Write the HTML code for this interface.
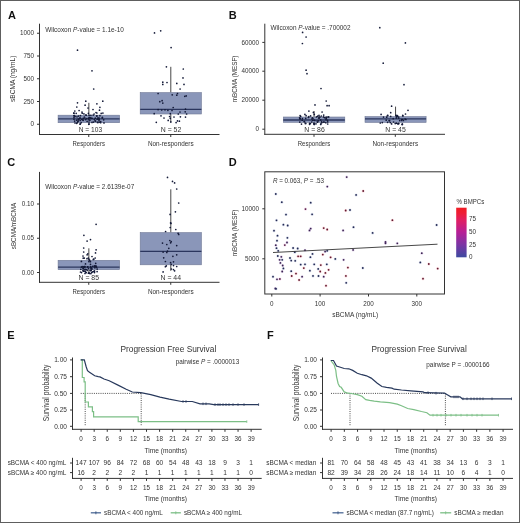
<!DOCTYPE html>
<html><head><meta charset="utf-8"><style>html,body{margin:0;padding:0;background:#fff;width:520px;height:523px;overflow:hidden}svg{display:block;will-change:transform}text{font-family:"Liberation Sans",sans-serif}</style></head><body>
<svg width="520" height="523" viewBox="0 0 520 523" font-family="Liberation Sans, sans-serif">
<rect x="0" y="0" width="520" height="523" fill="#fff"/>
<text x="8.0" y="18.8" font-size="11" font-weight="bold" fill="#111">A</text>
<line x1="39.5" y1="23.7" x2="39.5" y2="135.0" stroke="#333333" stroke-width="1"/>
<line x1="37.0" y1="33.25" x2="39.5" y2="33.25" stroke="#333333" stroke-width="1"/>
<text x="34" y="35.45" font-size="6.3" text-anchor="end" fill="#333333">1000</text>
<line x1="37.0" y1="56" x2="39.5" y2="56" stroke="#333333" stroke-width="1"/>
<text x="34" y="58.2" font-size="6.3" text-anchor="end" fill="#333333">750</text>
<line x1="37.0" y1="78.75" x2="39.5" y2="78.75" stroke="#333333" stroke-width="1"/>
<text x="34" y="80.95" font-size="6.3" text-anchor="end" fill="#333333">500</text>
<line x1="37.0" y1="101.5" x2="39.5" y2="101.5" stroke="#333333" stroke-width="1"/>
<text x="34" y="103.7" font-size="6.3" text-anchor="end" fill="#333333">250</text>
<line x1="37.0" y1="124.25" x2="39.5" y2="124.25" stroke="#333333" stroke-width="1"/>
<text x="34" y="126.45" font-size="6.3" text-anchor="end" fill="#333333">0</text>
<line x1="39.0" y1="134.5" x2="219.5" y2="134.5" stroke="#333333" stroke-width="1"/>
<line x1="88.75" y1="134.5" x2="88.75" y2="137.0" stroke="#333333" stroke-width="1"/>
<text x="88.75" y="145.6" font-size="6.6" text-anchor="middle" textLength="32.5" lengthAdjust="spacingAndGlyphs" fill="#333333">Responders</text>
<line x1="170.75" y1="134.5" x2="170.75" y2="137.0" stroke="#333333" stroke-width="1"/>
<text x="170.75" y="145.6" font-size="6.6" text-anchor="middle" textLength="45.75" lengthAdjust="spacingAndGlyphs" fill="#333333">Non-responders</text>
<text transform="translate(15.0,78.8) rotate(-90)" x="0" y="0" font-size="7.8" text-anchor="middle" textLength="46.5" lengthAdjust="spacingAndGlyphs" fill="#333333">sBCMA (ng/mL)</text>
<line x1="88.85" y1="102.8" x2="88.85" y2="115.2" stroke="#474747" stroke-width="1"/>
<line x1="88.85" y1="122.7" x2="88.85" y2="124.3" stroke="#474747" stroke-width="1"/>
<rect x="58.1" y="115.2" width="61.49999999999999" height="7.5" fill="#8a96b9" stroke="#6f7895" stroke-width="0.6"/>
<line x1="58.1" y1="118.8" x2="119.6" y2="118.8" stroke="#2b365e" stroke-width="1.3"/>
<line x1="170.8" y1="66.8" x2="170.8" y2="92.6" stroke="#474747" stroke-width="1"/>
<line x1="170.8" y1="114.0" x2="170.8" y2="122.6" stroke="#474747" stroke-width="1"/>
<rect x="140.2" y="92.6" width="61.20000000000002" height="21.400000000000006" fill="#8a96b9" stroke="#6f7895" stroke-width="0.6"/>
<line x1="140.2" y1="109.3" x2="201.4" y2="109.3" stroke="#2b365e" stroke-width="1.3"/>
<text x="45.2" y="31.8" font-size="6.8" textLength="78.7" lengthAdjust="spacingAndGlyphs" fill="#333333">Wilcoxon <tspan font-style="italic">P</tspan>-value = 1.1e-10</text>
<text x="90.4" y="131.6" font-size="6.6" text-anchor="middle" textLength="23.4" lengthAdjust="spacingAndGlyphs" fill="#333333">N = 103</text>
<text x="171.0" y="131.6" font-size="6.6" text-anchor="middle" textLength="20.5" lengthAdjust="spacingAndGlyphs" fill="#333333">N = 52</text>
<circle cx="77.5" cy="50.2" r="0.85" fill="#141a38"/>
<circle cx="92.0" cy="70.8" r="0.85" fill="#141a38"/>
<circle cx="93.7" cy="89.0" r="0.85" fill="#141a38"/>
<circle cx="102.8" cy="101.2" r="0.85" fill="#141a38"/>
<circle cx="77.5" cy="102.8" r="0.85" fill="#141a38"/>
<circle cx="85.8" cy="101.2" r="0.85" fill="#141a38"/>
<circle cx="96.9" cy="103.8" r="0.85" fill="#141a38"/>
<circle cx="76.8" cy="107.0" r="0.85" fill="#141a38"/>
<circle cx="85.1" cy="105.2" r="0.85" fill="#141a38"/>
<circle cx="99.9" cy="107.3" r="0.85" fill="#141a38"/>
<circle cx="93.0" cy="109.5" r="0.85" fill="#141a38"/>
<circle cx="74.8" cy="111.0" r="0.85" fill="#141a38"/>
<circle cx="79.1" cy="110.5" r="0.85" fill="#141a38"/>
<circle cx="99.5" cy="110.2" r="0.85" fill="#141a38"/>
<circle cx="88.0" cy="108.0" r="0.85" fill="#141a38"/>
<circle cx="82.0" cy="112.0" r="0.85" fill="#141a38"/>
<circle cx="96.0" cy="112.5" r="0.85" fill="#141a38"/>
<circle cx="77.4" cy="122.7" r="0.85" fill="#141a38"/>
<circle cx="96.9" cy="115.9" r="0.85" fill="#141a38"/>
<circle cx="88.6" cy="118.2" r="0.85" fill="#141a38"/>
<circle cx="93.4" cy="122.1" r="0.85" fill="#141a38"/>
<circle cx="76.2" cy="113.3" r="0.85" fill="#141a38"/>
<circle cx="99.2" cy="118.0" r="0.85" fill="#141a38"/>
<circle cx="96.9" cy="113.0" r="0.85" fill="#141a38"/>
<circle cx="87.1" cy="121.3" r="0.85" fill="#141a38"/>
<circle cx="80.3" cy="123.9" r="0.85" fill="#141a38"/>
<circle cx="101.2" cy="113.4" r="0.85" fill="#141a38"/>
<circle cx="74.0" cy="119.2" r="0.85" fill="#141a38"/>
<circle cx="102.4" cy="117.4" r="0.85" fill="#141a38"/>
<circle cx="80.0" cy="117.9" r="0.85" fill="#141a38"/>
<circle cx="74.2" cy="115.5" r="0.85" fill="#141a38"/>
<circle cx="86.8" cy="118.7" r="0.85" fill="#141a38"/>
<circle cx="80.5" cy="115.7" r="0.85" fill="#141a38"/>
<circle cx="80.0" cy="118.3" r="0.85" fill="#141a38"/>
<circle cx="82.2" cy="113.2" r="0.85" fill="#141a38"/>
<circle cx="99.2" cy="119.4" r="0.85" fill="#141a38"/>
<circle cx="93.2" cy="115.1" r="0.85" fill="#141a38"/>
<circle cx="104.0" cy="122.9" r="0.85" fill="#141a38"/>
<circle cx="77.0" cy="116.8" r="0.85" fill="#141a38"/>
<circle cx="95.6" cy="121.2" r="0.85" fill="#141a38"/>
<circle cx="102.3" cy="117.9" r="0.85" fill="#141a38"/>
<circle cx="99.0" cy="120.7" r="0.85" fill="#141a38"/>
<circle cx="82.7" cy="119.8" r="0.85" fill="#141a38"/>
<circle cx="100.6" cy="122.7" r="0.85" fill="#141a38"/>
<circle cx="88.9" cy="119.8" r="0.85" fill="#141a38"/>
<circle cx="74.3" cy="115.8" r="0.85" fill="#141a38"/>
<circle cx="98.0" cy="117.8" r="0.85" fill="#141a38"/>
<circle cx="78.6" cy="119.3" r="0.85" fill="#141a38"/>
<circle cx="95.0" cy="120.8" r="0.85" fill="#141a38"/>
<circle cx="84.9" cy="118.0" r="0.85" fill="#141a38"/>
<circle cx="89.0" cy="122.0" r="0.85" fill="#141a38"/>
<circle cx="89.4" cy="117.5" r="0.85" fill="#141a38"/>
<circle cx="88.4" cy="113.3" r="0.85" fill="#141a38"/>
<circle cx="74.6" cy="121.1" r="0.85" fill="#141a38"/>
<circle cx="103.7" cy="119.8" r="0.85" fill="#141a38"/>
<circle cx="85.5" cy="115.0" r="0.85" fill="#141a38"/>
<circle cx="88.8" cy="124.3" r="0.85" fill="#141a38"/>
<circle cx="97.1" cy="119.2" r="0.85" fill="#141a38"/>
<circle cx="99.9" cy="115.7" r="0.85" fill="#141a38"/>
<circle cx="89.2" cy="124.0" r="0.85" fill="#141a38"/>
<circle cx="91.2" cy="118.3" r="0.85" fill="#141a38"/>
<circle cx="81.6" cy="119.3" r="0.85" fill="#141a38"/>
<circle cx="102.9" cy="113.1" r="0.85" fill="#141a38"/>
<circle cx="97.5" cy="122.4" r="0.85" fill="#141a38"/>
<circle cx="100.7" cy="121.5" r="0.85" fill="#141a38"/>
<circle cx="98.3" cy="119.0" r="0.85" fill="#141a38"/>
<circle cx="90.7" cy="117.9" r="0.85" fill="#141a38"/>
<circle cx="75.0" cy="123.0" r="0.85" fill="#141a38"/>
<circle cx="90.9" cy="115.3" r="0.85" fill="#141a38"/>
<circle cx="88.9" cy="118.6" r="0.85" fill="#141a38"/>
<circle cx="84.3" cy="117.0" r="0.85" fill="#141a38"/>
<circle cx="89.9" cy="120.2" r="0.85" fill="#141a38"/>
<circle cx="92.2" cy="118.3" r="0.85" fill="#141a38"/>
<circle cx="74.1" cy="115.6" r="0.85" fill="#141a38"/>
<circle cx="78.7" cy="119.7" r="0.85" fill="#141a38"/>
<circle cx="99.9" cy="122.2" r="0.85" fill="#141a38"/>
<circle cx="98.0" cy="122.4" r="0.85" fill="#141a38"/>
<circle cx="81.2" cy="122.7" r="0.85" fill="#141a38"/>
<circle cx="94.1" cy="114.0" r="0.85" fill="#141a38"/>
<circle cx="73.8" cy="113.2" r="0.85" fill="#141a38"/>
<circle cx="96.7" cy="115.9" r="0.85" fill="#141a38"/>
<circle cx="76.6" cy="120.2" r="0.85" fill="#141a38"/>
<circle cx="83.9" cy="113.8" r="0.85" fill="#141a38"/>
<circle cx="78.2" cy="119.1" r="0.85" fill="#141a38"/>
<circle cx="78.5" cy="116.1" r="0.85" fill="#141a38"/>
<circle cx="95.3" cy="118.2" r="0.85" fill="#141a38"/>
<circle cx="83.2" cy="118.4" r="0.85" fill="#141a38"/>
<circle cx="74.0" cy="117.4" r="0.85" fill="#141a38"/>
<circle cx="86.3" cy="115.2" r="0.85" fill="#141a38"/>
<circle cx="76.6" cy="123.3" r="0.85" fill="#141a38"/>
<circle cx="89.1" cy="115.4" r="0.85" fill="#141a38"/>
<circle cx="92.0" cy="122.4" r="0.85" fill="#141a38"/>
<circle cx="73.9" cy="113.2" r="0.85" fill="#141a38"/>
<circle cx="77.8" cy="121.3" r="0.85" fill="#141a38"/>
<circle cx="78.2" cy="121.1" r="0.85" fill="#141a38"/>
<circle cx="94.3" cy="119.3" r="0.85" fill="#141a38"/>
<circle cx="80.1" cy="124.2" r="0.85" fill="#141a38"/>
<circle cx="98.0" cy="118.9" r="0.85" fill="#141a38"/>
<circle cx="80.2" cy="120.5" r="0.85" fill="#141a38"/>
<circle cx="85.5" cy="119.6" r="0.85" fill="#141a38"/>
<circle cx="83.2" cy="120.3" r="0.85" fill="#141a38"/>
<circle cx="75.1" cy="116.4" r="0.85" fill="#141a38"/>
<circle cx="154.5" cy="32.9" r="0.85" fill="#141a38"/>
<circle cx="160.7" cy="30.8" r="0.85" fill="#141a38"/>
<circle cx="171.1" cy="47.6" r="0.85" fill="#141a38"/>
<circle cx="166.4" cy="66.8" r="0.85" fill="#141a38"/>
<circle cx="183.3" cy="69.0" r="0.85" fill="#141a38"/>
<circle cx="183.0" cy="77.9" r="0.85" fill="#141a38"/>
<circle cx="162.8" cy="82.2" r="0.85" fill="#141a38"/>
<circle cx="162.8" cy="84.4" r="0.85" fill="#141a38"/>
<circle cx="167.0" cy="82.5" r="0.85" fill="#141a38"/>
<circle cx="176.8" cy="83.4" r="0.85" fill="#141a38"/>
<circle cx="184.0" cy="84.4" r="0.85" fill="#141a38"/>
<circle cx="180.1" cy="89.0" r="0.85" fill="#141a38"/>
<circle cx="158.1" cy="93.5" r="0.85" fill="#141a38"/>
<circle cx="172.2" cy="94.8" r="0.85" fill="#141a38"/>
<circle cx="177.5" cy="93.5" r="0.85" fill="#141a38"/>
<circle cx="176.8" cy="95.2" r="0.85" fill="#141a38"/>
<circle cx="184.8" cy="96.3" r="0.85" fill="#141a38"/>
<circle cx="186.2" cy="95.9" r="0.85" fill="#141a38"/>
<circle cx="159.8" cy="101.7" r="0.85" fill="#141a38"/>
<circle cx="162.1" cy="100.7" r="0.85" fill="#141a38"/>
<circle cx="162.8" cy="103.1" r="0.85" fill="#141a38"/>
<circle cx="173.2" cy="107.5" r="0.85" fill="#141a38"/>
<circle cx="158.1" cy="109.6" r="0.85" fill="#141a38"/>
<circle cx="161.7" cy="110.0" r="0.85" fill="#141a38"/>
<circle cx="167.9" cy="110.3" r="0.85" fill="#141a38"/>
<circle cx="185.5" cy="109.2" r="0.85" fill="#141a38"/>
<circle cx="185.2" cy="111.8" r="0.85" fill="#141a38"/>
<circle cx="154.2" cy="113.7" r="0.85" fill="#141a38"/>
<circle cx="170.3" cy="113.7" r="0.85" fill="#141a38"/>
<circle cx="178.3" cy="114.0" r="0.85" fill="#141a38"/>
<circle cx="186.6" cy="114.0" r="0.85" fill="#141a38"/>
<circle cx="161.0" cy="115.8" r="0.85" fill="#141a38"/>
<circle cx="169.6" cy="116.5" r="0.85" fill="#141a38"/>
<circle cx="180.4" cy="116.8" r="0.85" fill="#141a38"/>
<circle cx="185.5" cy="117.1" r="0.85" fill="#141a38"/>
<circle cx="170.3" cy="118.3" r="0.85" fill="#141a38"/>
<circle cx="168.2" cy="120.4" r="0.85" fill="#141a38"/>
<circle cx="177.5" cy="120.9" r="0.85" fill="#141a38"/>
<circle cx="156.3" cy="122.3" r="0.85" fill="#141a38"/>
<circle cx="170.8" cy="121.9" r="0.85" fill="#141a38"/>
<circle cx="176.1" cy="122.6" r="0.85" fill="#141a38"/>
<circle cx="179.4" cy="121.2" r="0.85" fill="#141a38"/>
<circle cx="165.0" cy="109.8" r="0.85" fill="#141a38"/>
<circle cx="172.0" cy="110.5" r="0.85" fill="#141a38"/>
<circle cx="180.0" cy="112.0" r="0.85" fill="#141a38"/>
<circle cx="164.0" cy="118.0" r="0.85" fill="#141a38"/>
<circle cx="174.0" cy="117.0" r="0.85" fill="#141a38"/>
<text x="228.7" y="18.7" font-size="11" font-weight="bold" fill="#111">B</text>
<line x1="264.8" y1="23.7" x2="264.8" y2="134.8" stroke="#333333" stroke-width="1"/>
<line x1="262.3" y1="42.4" x2="264.8" y2="42.4" stroke="#333333" stroke-width="1"/>
<text x="258.9" y="44.6" font-size="6.3" text-anchor="end" fill="#333333">60000</text>
<line x1="262.3" y1="71.2" x2="264.8" y2="71.2" stroke="#333333" stroke-width="1"/>
<text x="258.9" y="73.4" font-size="6.3" text-anchor="end" fill="#333333">40000</text>
<line x1="262.3" y1="100.2" x2="264.8" y2="100.2" stroke="#333333" stroke-width="1"/>
<text x="258.9" y="102.4" font-size="6.3" text-anchor="end" fill="#333333">20000</text>
<line x1="262.3" y1="129.2" x2="264.8" y2="129.2" stroke="#333333" stroke-width="1"/>
<text x="258.9" y="131.39999999999998" font-size="6.3" text-anchor="end" fill="#333333">0</text>
<line x1="264.3" y1="134.3" x2="445" y2="134.3" stroke="#333333" stroke-width="1"/>
<line x1="314" y1="134.3" x2="314" y2="136.8" stroke="#333333" stroke-width="1"/>
<text x="314" y="145.6" font-size="6.6" text-anchor="middle" textLength="32.5" lengthAdjust="spacingAndGlyphs" fill="#333333">Responders</text>
<line x1="395.3" y1="134.3" x2="395.3" y2="136.8" stroke="#333333" stroke-width="1"/>
<text x="395.3" y="145.6" font-size="6.6" text-anchor="middle" textLength="45.75" lengthAdjust="spacingAndGlyphs" fill="#333333">Non-responders</text>
<text transform="translate(237.2,78.9) rotate(-90)" x="0" y="0" font-size="7.8" text-anchor="middle" textLength="46.5" lengthAdjust="spacingAndGlyphs" fill="#333333">mBCMA (MESF)</text>
<line x1="314.05" y1="111.0" x2="314.05" y2="117.0" stroke="#474747" stroke-width="1"/>
<line x1="314.05" y1="122.3" x2="314.05" y2="123.5" stroke="#474747" stroke-width="1"/>
<rect x="283.3" y="117.0" width="61.5" height="5.299999999999997" fill="#8a96b9" stroke="#6f7895" stroke-width="0.6"/>
<line x1="283.3" y1="120.0" x2="344.8" y2="120.0" stroke="#2b365e" stroke-width="1.3"/>
<line x1="395.55" y1="106.6" x2="395.55" y2="116.6" stroke="#474747" stroke-width="1"/>
<line x1="395.55" y1="122.4" x2="395.55" y2="124.0" stroke="#474747" stroke-width="1"/>
<rect x="365.0" y="116.6" width="61.10000000000002" height="5.800000000000011" fill="#8a96b9" stroke="#6f7895" stroke-width="0.6"/>
<line x1="365.0" y1="118.8" x2="426.1" y2="118.8" stroke="#2b365e" stroke-width="1.3"/>
<text x="270.5" y="30.3" font-size="6.8" textLength="80" lengthAdjust="spacingAndGlyphs" fill="#333333">Wilcoxon <tspan font-style="italic">P</tspan>-value = .700002</text>
<text x="314.5" y="131.7" font-size="6.6" text-anchor="middle" textLength="20.5" lengthAdjust="spacingAndGlyphs" fill="#333333">N = 86</text>
<text x="395.5" y="131.7" font-size="6.6" text-anchor="middle" textLength="20.5" lengthAdjust="spacingAndGlyphs" fill="#333333">N = 45</text>
<circle cx="302.6" cy="32.4" r="0.85" fill="#141a38"/>
<circle cx="306.1" cy="37.0" r="0.85" fill="#141a38"/>
<circle cx="302.4" cy="43.5" r="0.85" fill="#141a38"/>
<circle cx="306.1" cy="70.2" r="0.85" fill="#141a38"/>
<circle cx="307.0" cy="73.7" r="0.85" fill="#141a38"/>
<circle cx="321.0" cy="88.5" r="0.85" fill="#141a38"/>
<circle cx="326.2" cy="101.0" r="0.85" fill="#141a38"/>
<circle cx="315.0" cy="104.9" r="0.85" fill="#141a38"/>
<circle cx="327.1" cy="105.7" r="0.85" fill="#141a38"/>
<circle cx="329.1" cy="105.7" r="0.85" fill="#141a38"/>
<circle cx="308.9" cy="111.1" r="0.85" fill="#141a38"/>
<circle cx="313.4" cy="112.4" r="0.85" fill="#141a38"/>
<circle cx="322.1" cy="112.0" r="0.85" fill="#141a38"/>
<circle cx="304.9" cy="114.4" r="0.85" fill="#141a38"/>
<circle cx="314.3" cy="114.4" r="0.85" fill="#141a38"/>
<circle cx="319.0" cy="115.4" r="0.85" fill="#141a38"/>
<circle cx="323.7" cy="115.1" r="0.85" fill="#141a38"/>
<circle cx="327.7" cy="124.0" r="0.85" fill="#141a38"/>
<circle cx="300.7" cy="116.3" r="0.85" fill="#141a38"/>
<circle cx="324.1" cy="122.1" r="0.85" fill="#141a38"/>
<circle cx="319.1" cy="118.3" r="0.85" fill="#141a38"/>
<circle cx="317.2" cy="121.0" r="0.85" fill="#141a38"/>
<circle cx="316.4" cy="116.9" r="0.85" fill="#141a38"/>
<circle cx="311.9" cy="119.0" r="0.85" fill="#141a38"/>
<circle cx="320.7" cy="124.5" r="0.85" fill="#141a38"/>
<circle cx="327.5" cy="120.4" r="0.85" fill="#141a38"/>
<circle cx="312.3" cy="117.9" r="0.85" fill="#141a38"/>
<circle cx="300.1" cy="115.7" r="0.85" fill="#141a38"/>
<circle cx="312.9" cy="118.4" r="0.85" fill="#141a38"/>
<circle cx="310.4" cy="123.5" r="0.85" fill="#141a38"/>
<circle cx="314.8" cy="120.5" r="0.85" fill="#141a38"/>
<circle cx="306.1" cy="115.7" r="0.85" fill="#141a38"/>
<circle cx="308.8" cy="116.7" r="0.85" fill="#141a38"/>
<circle cx="314.3" cy="124.5" r="0.85" fill="#141a38"/>
<circle cx="319.2" cy="117.1" r="0.85" fill="#141a38"/>
<circle cx="325.8" cy="122.7" r="0.85" fill="#141a38"/>
<circle cx="321.0" cy="123.7" r="0.85" fill="#141a38"/>
<circle cx="321.9" cy="122.6" r="0.85" fill="#141a38"/>
<circle cx="309.6" cy="124.3" r="0.85" fill="#141a38"/>
<circle cx="327.9" cy="117.0" r="0.85" fill="#141a38"/>
<circle cx="321.6" cy="121.9" r="0.85" fill="#141a38"/>
<circle cx="312.8" cy="120.3" r="0.85" fill="#141a38"/>
<circle cx="313.7" cy="123.8" r="0.85" fill="#141a38"/>
<circle cx="314.0" cy="123.0" r="0.85" fill="#141a38"/>
<circle cx="309.6" cy="123.4" r="0.85" fill="#141a38"/>
<circle cx="326.0" cy="119.6" r="0.85" fill="#141a38"/>
<circle cx="316.0" cy="123.8" r="0.85" fill="#141a38"/>
<circle cx="320.7" cy="119.9" r="0.85" fill="#141a38"/>
<circle cx="305.7" cy="118.4" r="0.85" fill="#141a38"/>
<circle cx="320.0" cy="117.0" r="0.85" fill="#141a38"/>
<circle cx="326.2" cy="117.9" r="0.85" fill="#141a38"/>
<circle cx="326.3" cy="118.3" r="0.85" fill="#141a38"/>
<circle cx="327.7" cy="121.9" r="0.85" fill="#141a38"/>
<circle cx="314.1" cy="120.2" r="0.85" fill="#141a38"/>
<circle cx="318.5" cy="120.8" r="0.85" fill="#141a38"/>
<circle cx="308.4" cy="117.4" r="0.85" fill="#141a38"/>
<circle cx="314.4" cy="123.9" r="0.85" fill="#141a38"/>
<circle cx="317.7" cy="116.2" r="0.85" fill="#141a38"/>
<circle cx="323.6" cy="122.0" r="0.85" fill="#141a38"/>
<circle cx="326.2" cy="117.2" r="0.85" fill="#141a38"/>
<circle cx="321.3" cy="116.0" r="0.85" fill="#141a38"/>
<circle cx="318.6" cy="118.0" r="0.85" fill="#141a38"/>
<circle cx="305.8" cy="123.4" r="0.85" fill="#141a38"/>
<circle cx="302.2" cy="120.2" r="0.85" fill="#141a38"/>
<circle cx="324.6" cy="117.7" r="0.85" fill="#141a38"/>
<circle cx="305.3" cy="123.4" r="0.85" fill="#141a38"/>
<circle cx="311.7" cy="122.0" r="0.85" fill="#141a38"/>
<circle cx="300.0" cy="118.8" r="0.85" fill="#141a38"/>
<circle cx="304.2" cy="121.6" r="0.85" fill="#141a38"/>
<circle cx="301.5" cy="124.1" r="0.85" fill="#141a38"/>
<circle cx="299.8" cy="122.1" r="0.85" fill="#141a38"/>
<circle cx="299.6" cy="117.8" r="0.85" fill="#141a38"/>
<circle cx="323.4" cy="116.9" r="0.85" fill="#141a38"/>
<circle cx="304.5" cy="121.7" r="0.85" fill="#141a38"/>
<circle cx="310.6" cy="115.9" r="0.85" fill="#141a38"/>
<circle cx="328.7" cy="116.9" r="0.85" fill="#141a38"/>
<circle cx="300.1" cy="118.6" r="0.85" fill="#141a38"/>
<circle cx="317.5" cy="122.2" r="0.85" fill="#141a38"/>
<circle cx="302.4" cy="118.5" r="0.85" fill="#141a38"/>
<circle cx="379.8" cy="27.7" r="0.85" fill="#141a38"/>
<circle cx="405.4" cy="42.9" r="0.85" fill="#141a38"/>
<circle cx="383.2" cy="63.2" r="0.85" fill="#141a38"/>
<circle cx="404.0" cy="84.7" r="0.85" fill="#141a38"/>
<circle cx="391.6" cy="106.2" r="0.85" fill="#141a38"/>
<circle cx="408.0" cy="110.3" r="0.85" fill="#141a38"/>
<circle cx="390.7" cy="112.7" r="0.85" fill="#141a38"/>
<circle cx="405.5" cy="114.0" r="0.85" fill="#141a38"/>
<circle cx="381.1" cy="114.4" r="0.85" fill="#141a38"/>
<circle cx="386.2" cy="120.2" r="0.85" fill="#141a38"/>
<circle cx="389.6" cy="120.7" r="0.85" fill="#141a38"/>
<circle cx="396.3" cy="115.6" r="0.85" fill="#141a38"/>
<circle cx="380.3" cy="123.0" r="0.85" fill="#141a38"/>
<circle cx="386.7" cy="117.2" r="0.85" fill="#141a38"/>
<circle cx="405.9" cy="119.5" r="0.85" fill="#141a38"/>
<circle cx="401.7" cy="119.5" r="0.85" fill="#141a38"/>
<circle cx="396.6" cy="116.4" r="0.85" fill="#141a38"/>
<circle cx="396.5" cy="123.2" r="0.85" fill="#141a38"/>
<circle cx="393.6" cy="122.0" r="0.85" fill="#141a38"/>
<circle cx="397.5" cy="115.6" r="0.85" fill="#141a38"/>
<circle cx="399.7" cy="120.6" r="0.85" fill="#141a38"/>
<circle cx="387.8" cy="115.3" r="0.85" fill="#141a38"/>
<circle cx="402.5" cy="119.5" r="0.85" fill="#141a38"/>
<circle cx="398.7" cy="123.3" r="0.85" fill="#141a38"/>
<circle cx="398.6" cy="123.8" r="0.85" fill="#141a38"/>
<circle cx="390.3" cy="122.6" r="0.85" fill="#141a38"/>
<circle cx="391.6" cy="123.9" r="0.85" fill="#141a38"/>
<circle cx="402.9" cy="115.9" r="0.85" fill="#141a38"/>
<circle cx="383.5" cy="117.1" r="0.85" fill="#141a38"/>
<circle cx="405.1" cy="119.1" r="0.85" fill="#141a38"/>
<circle cx="396.3" cy="117.9" r="0.85" fill="#141a38"/>
<circle cx="393.2" cy="118.7" r="0.85" fill="#141a38"/>
<circle cx="389.1" cy="120.6" r="0.85" fill="#141a38"/>
<circle cx="395.2" cy="123.6" r="0.85" fill="#141a38"/>
<circle cx="397.7" cy="123.8" r="0.85" fill="#141a38"/>
<circle cx="402.3" cy="124.4" r="0.85" fill="#141a38"/>
<circle cx="397.5" cy="116.5" r="0.85" fill="#141a38"/>
<circle cx="402.4" cy="124.2" r="0.85" fill="#141a38"/>
<circle cx="403.5" cy="120.4" r="0.85" fill="#141a38"/>
<circle cx="398.6" cy="117.0" r="0.85" fill="#141a38"/>
<circle cx="401.6" cy="120.4" r="0.85" fill="#141a38"/>
<circle cx="387.4" cy="115.6" r="0.85" fill="#141a38"/>
<circle cx="402.2" cy="124.4" r="0.85" fill="#141a38"/>
<circle cx="382.3" cy="122.6" r="0.85" fill="#141a38"/>
<circle cx="390.7" cy="116.4" r="0.85" fill="#141a38"/>
<circle cx="387.6" cy="122.3" r="0.85" fill="#141a38"/>
<circle cx="402.7" cy="115.4" r="0.85" fill="#141a38"/>
<circle cx="396.0" cy="115.4" r="0.85" fill="#141a38"/>
<circle cx="398.7" cy="118.1" r="0.85" fill="#141a38"/>
<text x="7.2" y="165.8" font-size="11" font-weight="bold" fill="#111">C</text>
<line x1="39.5" y1="171.9" x2="39.5" y2="282.8" stroke="#333333" stroke-width="1"/>
<line x1="37.0" y1="204" x2="39.5" y2="204" stroke="#333333" stroke-width="1"/>
<text x="34" y="206.2" font-size="6.3" text-anchor="end" fill="#333333">0.10</text>
<line x1="37.0" y1="238.25" x2="39.5" y2="238.25" stroke="#333333" stroke-width="1"/>
<text x="34" y="240.45" font-size="6.3" text-anchor="end" fill="#333333">0.05</text>
<line x1="37.0" y1="272.5" x2="39.5" y2="272.5" stroke="#333333" stroke-width="1"/>
<text x="34" y="274.7" font-size="6.3" text-anchor="end" fill="#333333">0.00</text>
<line x1="39.0" y1="282.3" x2="219.5" y2="282.3" stroke="#333333" stroke-width="1"/>
<line x1="88.75" y1="282.3" x2="88.75" y2="284.8" stroke="#333333" stroke-width="1"/>
<text x="88.75" y="293.8" font-size="6.6" text-anchor="middle" textLength="32.5" lengthAdjust="spacingAndGlyphs" fill="#333333">Responders</text>
<line x1="170.75" y1="282.3" x2="170.75" y2="284.8" stroke="#333333" stroke-width="1"/>
<text x="170.75" y="293.8" font-size="6.6" text-anchor="middle" textLength="45.75" lengthAdjust="spacingAndGlyphs" fill="#333333">Non-responders</text>
<text transform="translate(16.0,226) rotate(-90)" x="0" y="0" font-size="7.8" text-anchor="middle" textLength="46.5" lengthAdjust="spacingAndGlyphs" fill="#333333">sBCMA/mBCMA</text>
<line x1="88.85" y1="248.3" x2="88.85" y2="260.3" stroke="#474747" stroke-width="1"/>
<line x1="88.85" y1="269.7" x2="88.85" y2="272.8" stroke="#474747" stroke-width="1"/>
<rect x="58.1" y="260.3" width="61.49999999999999" height="9.399999999999977" fill="#8a96b9" stroke="#6f7895" stroke-width="0.6"/>
<line x1="58.1" y1="267.1" x2="119.6" y2="267.1" stroke="#2b365e" stroke-width="1.3"/>
<line x1="170.8" y1="189.3" x2="170.8" y2="232.6" stroke="#474747" stroke-width="1"/>
<line x1="170.8" y1="264.8" x2="170.8" y2="270.8" stroke="#474747" stroke-width="1"/>
<rect x="140.2" y="232.6" width="61.20000000000002" height="32.20000000000002" fill="#8a96b9" stroke="#6f7895" stroke-width="0.6"/>
<line x1="140.2" y1="251.4" x2="201.4" y2="251.4" stroke="#2b365e" stroke-width="1.3"/>
<text x="45.2" y="188.6" font-size="6.8" textLength="89" lengthAdjust="spacingAndGlyphs" fill="#333333">Wilcoxon <tspan font-style="italic">P</tspan>-value = 2.6139e-07</text>
<text x="88.75" y="279.8" font-size="6.6" text-anchor="middle" textLength="20.5" lengthAdjust="spacingAndGlyphs" fill="#333333">N = 85</text>
<text x="170.75" y="279.8" font-size="6.6" text-anchor="middle" textLength="20.5" lengthAdjust="spacingAndGlyphs" fill="#333333">N = 44</text>
<circle cx="96.1" cy="224.3" r="0.85" fill="#141a38"/>
<circle cx="83.9" cy="235.3" r="0.85" fill="#141a38"/>
<circle cx="90.5" cy="239.6" r="0.85" fill="#141a38"/>
<circle cx="87.1" cy="241.1" r="0.85" fill="#141a38"/>
<circle cx="83.7" cy="248.0" r="0.85" fill="#141a38"/>
<circle cx="96.1" cy="249.8" r="0.85" fill="#141a38"/>
<circle cx="83.7" cy="252.0" r="0.85" fill="#141a38"/>
<circle cx="95.5" cy="252.9" r="0.85" fill="#141a38"/>
<circle cx="87.8" cy="253.8" r="0.85" fill="#141a38"/>
<circle cx="87.1" cy="254.8" r="0.85" fill="#141a38"/>
<circle cx="83.0" cy="256.0" r="0.85" fill="#141a38"/>
<circle cx="92.0" cy="256.5" r="0.85" fill="#141a38"/>
<circle cx="84.3" cy="258.1" r="0.85" fill="#141a38"/>
<circle cx="87.0" cy="258.7" r="0.85" fill="#141a38"/>
<circle cx="81.4" cy="261.4" r="0.85" fill="#141a38"/>
<circle cx="95.9" cy="265.8" r="0.85" fill="#141a38"/>
<circle cx="93.3" cy="259.4" r="0.85" fill="#141a38"/>
<circle cx="89.4" cy="260.0" r="0.85" fill="#141a38"/>
<circle cx="83.2" cy="258.2" r="0.85" fill="#141a38"/>
<circle cx="83.9" cy="267.2" r="0.85" fill="#141a38"/>
<circle cx="94.3" cy="265.9" r="0.85" fill="#141a38"/>
<circle cx="93.9" cy="259.1" r="0.85" fill="#141a38"/>
<circle cx="85.5" cy="263.9" r="0.85" fill="#141a38"/>
<circle cx="92.7" cy="266.4" r="0.85" fill="#141a38"/>
<circle cx="95.2" cy="258.0" r="0.85" fill="#141a38"/>
<circle cx="90.5" cy="264.4" r="0.85" fill="#141a38"/>
<circle cx="88.9" cy="259.0" r="0.85" fill="#141a38"/>
<circle cx="88.3" cy="258.0" r="0.85" fill="#141a38"/>
<circle cx="96.1" cy="266.5" r="0.85" fill="#141a38"/>
<circle cx="89.6" cy="260.3" r="0.85" fill="#141a38"/>
<circle cx="95.7" cy="263.3" r="0.85" fill="#141a38"/>
<circle cx="95.2" cy="266.3" r="0.85" fill="#141a38"/>
<circle cx="88.9" cy="261.6" r="0.85" fill="#141a38"/>
<circle cx="90.4" cy="261.7" r="0.85" fill="#141a38"/>
<circle cx="87.2" cy="270.5" r="0.85" fill="#141a38"/>
<circle cx="94.9" cy="267.8" r="0.85" fill="#141a38"/>
<circle cx="84.1" cy="266.7" r="0.85" fill="#141a38"/>
<circle cx="82.2" cy="266.6" r="0.85" fill="#141a38"/>
<circle cx="82.9" cy="270.3" r="0.85" fill="#141a38"/>
<circle cx="97.1" cy="271.6" r="0.85" fill="#141a38"/>
<circle cx="86.7" cy="269.5" r="0.85" fill="#141a38"/>
<circle cx="92.0" cy="268.9" r="0.85" fill="#141a38"/>
<circle cx="81.5" cy="272.6" r="0.85" fill="#141a38"/>
<circle cx="90.7" cy="267.3" r="0.85" fill="#141a38"/>
<circle cx="81.4" cy="267.2" r="0.85" fill="#141a38"/>
<circle cx="96.6" cy="267.3" r="0.85" fill="#141a38"/>
<circle cx="90.9" cy="273.6" r="0.85" fill="#141a38"/>
<circle cx="80.8" cy="269.3" r="0.85" fill="#141a38"/>
<circle cx="88.4" cy="273.2" r="0.85" fill="#141a38"/>
<circle cx="83.5" cy="268.4" r="0.85" fill="#141a38"/>
<circle cx="84.5" cy="266.9" r="0.85" fill="#141a38"/>
<circle cx="91.7" cy="272.5" r="0.85" fill="#141a38"/>
<circle cx="87.7" cy="266.8" r="0.85" fill="#141a38"/>
<circle cx="92.4" cy="271.9" r="0.85" fill="#141a38"/>
<circle cx="91.4" cy="268.9" r="0.85" fill="#141a38"/>
<circle cx="94.4" cy="271.1" r="0.85" fill="#141a38"/>
<circle cx="90.3" cy="270.4" r="0.85" fill="#141a38"/>
<circle cx="84.2" cy="269.8" r="0.85" fill="#141a38"/>
<circle cx="93.7" cy="271.5" r="0.85" fill="#141a38"/>
<circle cx="86.1" cy="272.5" r="0.85" fill="#141a38"/>
<circle cx="94.5" cy="266.8" r="0.85" fill="#141a38"/>
<circle cx="82.9" cy="268.1" r="0.85" fill="#141a38"/>
<circle cx="80.5" cy="272.0" r="0.85" fill="#141a38"/>
<circle cx="91.2" cy="270.5" r="0.85" fill="#141a38"/>
<circle cx="97.2" cy="269.1" r="0.85" fill="#141a38"/>
<circle cx="83.6" cy="267.3" r="0.85" fill="#141a38"/>
<circle cx="86.0" cy="272.6" r="0.85" fill="#141a38"/>
<circle cx="90.6" cy="266.9" r="0.85" fill="#141a38"/>
<circle cx="87.6" cy="266.9" r="0.85" fill="#141a38"/>
<circle cx="90.8" cy="267.4" r="0.85" fill="#141a38"/>
<circle cx="83.3" cy="271.2" r="0.85" fill="#141a38"/>
<circle cx="94.5" cy="271.0" r="0.85" fill="#141a38"/>
<circle cx="85.2" cy="271.2" r="0.85" fill="#141a38"/>
<circle cx="84.9" cy="266.5" r="0.85" fill="#141a38"/>
<circle cx="84.9" cy="271.5" r="0.85" fill="#141a38"/>
<circle cx="90.9" cy="267.9" r="0.85" fill="#141a38"/>
<circle cx="94.5" cy="272.6" r="0.85" fill="#141a38"/>
<circle cx="85.0" cy="273.5" r="0.85" fill="#141a38"/>
<circle cx="84.7" cy="267.0" r="0.85" fill="#141a38"/>
<circle cx="89.0" cy="272.8" r="0.85" fill="#141a38"/>
<circle cx="90.4" cy="270.5" r="0.85" fill="#141a38"/>
<circle cx="88.5" cy="268.6" r="0.85" fill="#141a38"/>
<circle cx="85.3" cy="269.4" r="0.85" fill="#141a38"/>
<circle cx="89.6" cy="273.4" r="0.85" fill="#141a38"/>
<circle cx="167.5" cy="177.4" r="0.85" fill="#141a38"/>
<circle cx="172.5" cy="181.4" r="0.85" fill="#141a38"/>
<circle cx="174.6" cy="182.9" r="0.85" fill="#141a38"/>
<circle cx="176.7" cy="189.0" r="0.85" fill="#141a38"/>
<circle cx="178.7" cy="203.0" r="0.85" fill="#141a38"/>
<circle cx="175.4" cy="211.8" r="0.85" fill="#141a38"/>
<circle cx="170.1" cy="214.4" r="0.85" fill="#141a38"/>
<circle cx="170.9" cy="223.4" r="0.85" fill="#141a38"/>
<circle cx="170.6" cy="222.9" r="0.85" fill="#141a38"/>
<circle cx="170.2" cy="227.5" r="0.85" fill="#141a38"/>
<circle cx="175.8" cy="229.5" r="0.85" fill="#141a38"/>
<circle cx="165.6" cy="231.5" r="0.85" fill="#141a38"/>
<circle cx="178.1" cy="233.3" r="0.85" fill="#141a38"/>
<circle cx="178.7" cy="234.4" r="0.85" fill="#141a38"/>
<circle cx="169.8" cy="240.5" r="0.85" fill="#141a38"/>
<circle cx="171.2" cy="241.7" r="0.85" fill="#141a38"/>
<circle cx="170.6" cy="242.8" r="0.85" fill="#141a38"/>
<circle cx="162.5" cy="243.1" r="0.85" fill="#141a38"/>
<circle cx="166.8" cy="244.5" r="0.85" fill="#141a38"/>
<circle cx="176.7" cy="245.6" r="0.85" fill="#141a38"/>
<circle cx="168.8" cy="248.3" r="0.85" fill="#141a38"/>
<circle cx="163.1" cy="252.1" r="0.85" fill="#141a38"/>
<circle cx="166.8" cy="252.5" r="0.85" fill="#141a38"/>
<circle cx="167.5" cy="251.2" r="0.85" fill="#141a38"/>
<circle cx="176.7" cy="254.8" r="0.85" fill="#141a38"/>
<circle cx="172.9" cy="256.3" r="0.85" fill="#141a38"/>
<circle cx="163.7" cy="257.8" r="0.85" fill="#141a38"/>
<circle cx="165.4" cy="261.5" r="0.85" fill="#141a38"/>
<circle cx="170.6" cy="262.7" r="0.85" fill="#141a38"/>
<circle cx="173.5" cy="261.8" r="0.85" fill="#141a38"/>
<circle cx="165.4" cy="266.7" r="0.85" fill="#141a38"/>
<circle cx="166.3" cy="265.9" r="0.85" fill="#141a38"/>
<circle cx="171.2" cy="264.4" r="0.85" fill="#141a38"/>
<circle cx="173.5" cy="265.6" r="0.85" fill="#141a38"/>
<circle cx="176.7" cy="266.5" r="0.85" fill="#141a38"/>
<circle cx="171.4" cy="269.0" r="0.85" fill="#141a38"/>
<circle cx="173.5" cy="269.6" r="0.85" fill="#141a38"/>
<circle cx="174.6" cy="270.8" r="0.85" fill="#141a38"/>
<circle cx="163.1" cy="271.9" r="0.85" fill="#141a38"/>
<text x="228.7" y="165.6" font-size="11" font-weight="bold" fill="#111">D</text>
<rect x="264.8" y="171.8" width="179.7" height="122.2" fill="none" stroke="#333" stroke-width="1"/>
<line x1="262.3" y1="208.8" x2="264.8" y2="208.8" stroke="#333333" stroke-width="1"/>
<text x="258.9" y="211.0" font-size="6.3" text-anchor="end" fill="#333333">10000</text>
<line x1="262.3" y1="258.8" x2="264.8" y2="258.8" stroke="#333333" stroke-width="1"/>
<text x="258.9" y="261.0" font-size="6.3" text-anchor="end" fill="#333333">5000</text>
<line x1="271.8" y1="294" x2="271.8" y2="296.5" stroke="#333333" stroke-width="1"/>
<text x="271.8" y="305.8" font-size="6.3" text-anchor="middle" fill="#333333">0</text>
<line x1="320.1" y1="294" x2="320.1" y2="296.5" stroke="#333333" stroke-width="1"/>
<text x="320.1" y="305.8" font-size="6.3" text-anchor="middle" fill="#333333">100</text>
<line x1="368.5" y1="294" x2="368.5" y2="296.5" stroke="#333333" stroke-width="1"/>
<text x="368.5" y="305.8" font-size="6.3" text-anchor="middle" fill="#333333">200</text>
<line x1="416.8" y1="294" x2="416.8" y2="296.5" stroke="#333333" stroke-width="1"/>
<text x="416.8" y="305.8" font-size="6.3" text-anchor="middle" fill="#333333">300</text>
<text x="355.2" y="317.4" font-size="7.4" text-anchor="middle" textLength="46.0" lengthAdjust="spacingAndGlyphs" fill="#333333">sBCMA (ng/mL)</text>
<text transform="translate(237.3,232.9) rotate(-90)" x="0" y="0" font-size="7.8" text-anchor="middle" textLength="46.5" lengthAdjust="spacingAndGlyphs" fill="#333333">mBCMA (MESF)</text>
<text x="272.9" y="183.2" font-size="6.8" textLength="51" lengthAdjust="spacingAndGlyphs" fill="#333333"><tspan font-style="italic">R</tspan> = 0.063, <tspan font-style="italic">P</tspan> = .53</text>
<circle cx="346.7" cy="177.1" r="1.5" fill="#7a38a6" opacity="0.2"/>
<circle cx="346.7" cy="177.1" r="0.88" fill="#3a2450"/>
<circle cx="327.3" cy="186.6" r="1.5" fill="#7a38a6" opacity="0.2"/>
<circle cx="327.3" cy="186.6" r="0.88" fill="#3a2450"/>
<circle cx="275.8" cy="194" r="1.5" fill="#3e4fa2" opacity="0.2"/>
<circle cx="275.8" cy="194.0" r="0.88" fill="#252b52"/>
<circle cx="281.8" cy="202.2" r="1.5" fill="#3e4fa2" opacity="0.2"/>
<circle cx="281.8" cy="202.2" r="0.88" fill="#252b52"/>
<circle cx="310.7" cy="202.7" r="1.5" fill="#3e4fa2" opacity="0.2"/>
<circle cx="310.7" cy="202.7" r="0.88" fill="#252b52"/>
<circle cx="305.5" cy="209.1" r="1.5" fill="#c01c8c" opacity="0.2"/>
<circle cx="305.5" cy="209.1" r="0.88" fill="#4f1f45"/>
<circle cx="345.7" cy="210.5" r="1.5" fill="#e8203a" opacity="0.2"/>
<circle cx="345.7" cy="210.5" r="0.88" fill="#5c1c30"/>
<circle cx="350" cy="210" r="1.5" fill="#3e4fa2" opacity="0.2"/>
<circle cx="350.0" cy="210.0" r="0.88" fill="#252b52"/>
<circle cx="286" cy="214.6" r="1.5" fill="#3e4fa2" opacity="0.2"/>
<circle cx="286.0" cy="214.6" r="0.88" fill="#252b52"/>
<circle cx="312.1" cy="214.3" r="1.5" fill="#3e4fa2" opacity="0.2"/>
<circle cx="312.1" cy="214.3" r="0.88" fill="#252b52"/>
<circle cx="276.5" cy="220.3" r="1.5" fill="#3e4fa2" opacity="0.2"/>
<circle cx="276.5" cy="220.3" r="0.88" fill="#252b52"/>
<circle cx="283.4" cy="224.7" r="1.5" fill="#3e4fa2" opacity="0.2"/>
<circle cx="283.4" cy="224.7" r="0.88" fill="#252b52"/>
<circle cx="287.7" cy="225.5" r="1.5" fill="#3e4fa2" opacity="0.2"/>
<circle cx="287.7" cy="225.5" r="0.88" fill="#252b52"/>
<circle cx="274" cy="230.7" r="1.5" fill="#3e4fa2" opacity="0.2"/>
<circle cx="274.0" cy="230.7" r="0.88" fill="#252b52"/>
<circle cx="310.7" cy="228.6" r="1.5" fill="#7a38a6" opacity="0.2"/>
<circle cx="310.7" cy="228.6" r="0.88" fill="#3a2450"/>
<circle cx="309.5" cy="230.4" r="1.5" fill="#7a38a6" opacity="0.2"/>
<circle cx="309.5" cy="230.4" r="0.88" fill="#3a2450"/>
<circle cx="323.7" cy="228.1" r="1.5" fill="#e8203a" opacity="0.2"/>
<circle cx="323.7" cy="228.1" r="0.88" fill="#5c1c30"/>
<circle cx="327.2" cy="229.5" r="1.5" fill="#e8203a" opacity="0.2"/>
<circle cx="327.2" cy="229.5" r="0.88" fill="#5c1c30"/>
<circle cx="343.1" cy="230.4" r="1.5" fill="#7a38a6" opacity="0.2"/>
<circle cx="343.1" cy="230.4" r="0.88" fill="#3a2450"/>
<circle cx="353.5" cy="227.2" r="1.5" fill="#3e4fa2" opacity="0.2"/>
<circle cx="353.5" cy="227.2" r="0.88" fill="#252b52"/>
<circle cx="277.5" cy="235.7" r="1.5" fill="#3e4fa2" opacity="0.2"/>
<circle cx="277.5" cy="235.7" r="0.88" fill="#252b52"/>
<circle cx="287.4" cy="237.8" r="1.5" fill="#3e4fa2" opacity="0.2"/>
<circle cx="287.4" cy="237.8" r="0.88" fill="#252b52"/>
<circle cx="277" cy="240.7" r="1.5" fill="#3e4fa2" opacity="0.2"/>
<circle cx="277.0" cy="240.7" r="0.88" fill="#252b52"/>
<circle cx="287" cy="242.5" r="1.5" fill="#7a38a6" opacity="0.2"/>
<circle cx="287.0" cy="242.5" r="0.88" fill="#3a2450"/>
<circle cx="275.8" cy="245.2" r="1.5" fill="#7a38a6" opacity="0.2"/>
<circle cx="275.8" cy="245.2" r="0.88" fill="#3a2450"/>
<circle cx="284.8" cy="245.1" r="1.5" fill="#c01c8c" opacity="0.2"/>
<circle cx="284.8" cy="245.1" r="0.88" fill="#4f1f45"/>
<circle cx="276.5" cy="248.2" r="1.5" fill="#3e4fa2" opacity="0.2"/>
<circle cx="276.5" cy="248.2" r="0.88" fill="#252b52"/>
<circle cx="293.1" cy="248" r="1.5" fill="#3e4fa2" opacity="0.2"/>
<circle cx="293.1" cy="248.0" r="0.88" fill="#252b52"/>
<circle cx="297.7" cy="248.5" r="1.5" fill="#3e4fa2" opacity="0.2"/>
<circle cx="297.7" cy="248.5" r="0.88" fill="#252b52"/>
<circle cx="278.2" cy="250.8" r="1.5" fill="#3e4fa2" opacity="0.2"/>
<circle cx="278.2" cy="250.8" r="0.88" fill="#252b52"/>
<circle cx="305" cy="250.2" r="1.5" fill="#7a38a6" opacity="0.2"/>
<circle cx="305.0" cy="250.2" r="0.88" fill="#3a2450"/>
<circle cx="325.1" cy="251.6" r="1.5" fill="#7a38a6" opacity="0.2"/>
<circle cx="325.1" cy="251.6" r="0.88" fill="#3a2450"/>
<circle cx="327.2" cy="250.8" r="1.5" fill="#3e4fa2" opacity="0.2"/>
<circle cx="327.2" cy="250.8" r="0.88" fill="#252b52"/>
<circle cx="353.1" cy="249.9" r="1.5" fill="#7a38a6" opacity="0.2"/>
<circle cx="353.1" cy="249.9" r="0.88" fill="#3a2450"/>
<circle cx="294.8" cy="252.2" r="1.5" fill="#3e4fa2" opacity="0.2"/>
<circle cx="294.8" cy="252.2" r="0.88" fill="#252b52"/>
<circle cx="277.8" cy="256" r="1.5" fill="#3e4fa2" opacity="0.2"/>
<circle cx="277.8" cy="256.0" r="0.88" fill="#252b52"/>
<circle cx="281.3" cy="256.8" r="1.5" fill="#7a38a6" opacity="0.2"/>
<circle cx="281.3" cy="256.8" r="0.88" fill="#3a2450"/>
<circle cx="298.1" cy="256.3" r="1.5" fill="#e8203a" opacity="0.2"/>
<circle cx="298.1" cy="256.3" r="0.88" fill="#5c1c30"/>
<circle cx="300.7" cy="256.3" r="1.5" fill="#e8203a" opacity="0.2"/>
<circle cx="300.7" cy="256.3" r="0.88" fill="#5c1c30"/>
<circle cx="312.5" cy="253.9" r="1.5" fill="#3e4fa2" opacity="0.2"/>
<circle cx="312.5" cy="253.9" r="0.88" fill="#252b52"/>
<circle cx="310.4" cy="257.2" r="1.5" fill="#3e4fa2" opacity="0.2"/>
<circle cx="310.4" cy="257.2" r="0.88" fill="#252b52"/>
<circle cx="322.8" cy="254.6" r="1.5" fill="#e8203a" opacity="0.2"/>
<circle cx="322.8" cy="254.6" r="0.88" fill="#5c1c30"/>
<circle cx="330.6" cy="257.3" r="1.5" fill="#e8203a" opacity="0.2"/>
<circle cx="330.6" cy="257.3" r="0.88" fill="#5c1c30"/>
<circle cx="335.3" cy="258.9" r="1.5" fill="#3e4fa2" opacity="0.2"/>
<circle cx="335.3" cy="258.9" r="0.88" fill="#252b52"/>
<circle cx="343.6" cy="259.8" r="1.5" fill="#7a38a6" opacity="0.2"/>
<circle cx="343.6" cy="259.8" r="0.88" fill="#3a2450"/>
<circle cx="290" cy="258" r="1.5" fill="#3e4fa2" opacity="0.2"/>
<circle cx="290.0" cy="258.0" r="0.88" fill="#252b52"/>
<circle cx="279.6" cy="259.8" r="1.5" fill="#7a38a6" opacity="0.2"/>
<circle cx="279.6" cy="259.8" r="0.88" fill="#3a2450"/>
<circle cx="282.2" cy="259.8" r="1.5" fill="#3e4fa2" opacity="0.2"/>
<circle cx="282.2" cy="259.8" r="0.88" fill="#252b52"/>
<circle cx="291.2" cy="260.6" r="1.5" fill="#3e4fa2" opacity="0.2"/>
<circle cx="291.2" cy="260.6" r="0.88" fill="#252b52"/>
<circle cx="295.2" cy="260.8" r="1.5" fill="#3e4fa2" opacity="0.2"/>
<circle cx="295.2" cy="260.8" r="0.88" fill="#252b52"/>
<circle cx="280.4" cy="262.9" r="1.5" fill="#7a38a6" opacity="0.2"/>
<circle cx="280.4" cy="262.9" r="0.88" fill="#3a2450"/>
<circle cx="300.7" cy="264.6" r="1.5" fill="#3e4fa2" opacity="0.2"/>
<circle cx="300.7" cy="264.6" r="0.88" fill="#252b52"/>
<circle cx="305" cy="264.3" r="1.5" fill="#3e4fa2" opacity="0.2"/>
<circle cx="305.0" cy="264.3" r="0.88" fill="#252b52"/>
<circle cx="282.7" cy="265.5" r="1.5" fill="#7a38a6" opacity="0.2"/>
<circle cx="282.7" cy="265.5" r="0.88" fill="#3a2450"/>
<circle cx="314.2" cy="264.3" r="1.5" fill="#3e4fa2" opacity="0.2"/>
<circle cx="314.2" cy="264.3" r="0.88" fill="#252b52"/>
<circle cx="320.8" cy="265.1" r="1.5" fill="#e8203a" opacity="0.2"/>
<circle cx="320.8" cy="265.1" r="0.88" fill="#5c1c30"/>
<circle cx="326.8" cy="264.3" r="1.5" fill="#3e4fa2" opacity="0.2"/>
<circle cx="326.8" cy="264.3" r="0.88" fill="#252b52"/>
<circle cx="347.9" cy="267.6" r="1.5" fill="#e8203a" opacity="0.2"/>
<circle cx="347.9" cy="267.6" r="0.88" fill="#5c1c30"/>
<circle cx="283.4" cy="268.4" r="1.5" fill="#3e4fa2" opacity="0.2"/>
<circle cx="283.4" cy="268.4" r="0.88" fill="#252b52"/>
<circle cx="303.8" cy="268.1" r="1.5" fill="#e8203a" opacity="0.2"/>
<circle cx="303.8" cy="268.1" r="0.88" fill="#5c1c30"/>
<circle cx="318.2" cy="268.9" r="1.5" fill="#3e4fa2" opacity="0.2"/>
<circle cx="318.2" cy="268.9" r="0.88" fill="#252b52"/>
<circle cx="291.2" cy="271.2" r="1.5" fill="#3e4fa2" opacity="0.2"/>
<circle cx="291.2" cy="271.2" r="0.88" fill="#252b52"/>
<circle cx="309.9" cy="270.7" r="1.5" fill="#3e4fa2" opacity="0.2"/>
<circle cx="309.9" cy="270.7" r="0.88" fill="#252b52"/>
<circle cx="282.2" cy="271.5" r="1.5" fill="#7a38a6" opacity="0.2"/>
<circle cx="282.2" cy="271.5" r="0.88" fill="#3a2450"/>
<circle cx="320.2" cy="271.5" r="1.5" fill="#e8203a" opacity="0.2"/>
<circle cx="320.2" cy="271.5" r="0.88" fill="#5c1c30"/>
<circle cx="328.6" cy="269.8" r="1.5" fill="#e8203a" opacity="0.2"/>
<circle cx="328.6" cy="269.8" r="0.88" fill="#5c1c30"/>
<circle cx="296" cy="273.6" r="1.5" fill="#e8203a" opacity="0.2"/>
<circle cx="296.0" cy="273.6" r="0.88" fill="#5c1c30"/>
<circle cx="325.4" cy="272.9" r="1.5" fill="#e8203a" opacity="0.2"/>
<circle cx="325.4" cy="272.9" r="0.88" fill="#5c1c30"/>
<circle cx="273" cy="276.7" r="1.5" fill="#3e4fa2" opacity="0.2"/>
<circle cx="273.0" cy="276.7" r="0.88" fill="#252b52"/>
<circle cx="291.7" cy="276" r="1.5" fill="#e8203a" opacity="0.2"/>
<circle cx="291.7" cy="276.0" r="0.88" fill="#5c1c30"/>
<circle cx="302.1" cy="276.7" r="1.5" fill="#7a38a6" opacity="0.2"/>
<circle cx="302.1" cy="276.7" r="0.88" fill="#3a2450"/>
<circle cx="313" cy="275.9" r="1.5" fill="#3e4fa2" opacity="0.2"/>
<circle cx="313.0" cy="275.9" r="0.88" fill="#252b52"/>
<circle cx="318.5" cy="276" r="1.5" fill="#3e4fa2" opacity="0.2"/>
<circle cx="318.5" cy="276.0" r="0.88" fill="#252b52"/>
<circle cx="323.7" cy="276.7" r="1.5" fill="#7a38a6" opacity="0.2"/>
<circle cx="323.7" cy="276.7" r="0.88" fill="#3a2450"/>
<circle cx="345.9" cy="275.9" r="1.5" fill="#e8203a" opacity="0.2"/>
<circle cx="345.9" cy="275.9" r="0.88" fill="#5c1c30"/>
<circle cx="277" cy="279.3" r="1.5" fill="#7a38a6" opacity="0.2"/>
<circle cx="277.0" cy="279.3" r="0.88" fill="#3a2450"/>
<circle cx="279.9" cy="279" r="1.5" fill="#c01c8c" opacity="0.2"/>
<circle cx="279.9" cy="279.0" r="0.88" fill="#4f1f45"/>
<circle cx="299.1" cy="280" r="1.5" fill="#e8203a" opacity="0.2"/>
<circle cx="299.1" cy="280.0" r="0.88" fill="#5c1c30"/>
<circle cx="346.2" cy="282.8" r="1.5" fill="#3e4fa2" opacity="0.2"/>
<circle cx="346.2" cy="282.8" r="0.88" fill="#252b52"/>
<circle cx="326" cy="285.7" r="1.5" fill="#e8203a" opacity="0.2"/>
<circle cx="326.0" cy="285.7" r="0.88" fill="#5c1c30"/>
<circle cx="275.3" cy="288.5" r="1.5" fill="#7a38a6" opacity="0.2"/>
<circle cx="275.3" cy="288.5" r="0.88" fill="#3a2450"/>
<circle cx="276.1" cy="288.8" r="1.5" fill="#3e4fa2" opacity="0.2"/>
<circle cx="276.1" cy="288.8" r="0.88" fill="#252b52"/>
<circle cx="356.1" cy="194.9" r="1.5" fill="#3e4fa2" opacity="0.2"/>
<circle cx="356.1" cy="194.9" r="0.88" fill="#252b52"/>
<circle cx="363.2" cy="191" r="1.5" fill="#e8203a" opacity="0.2"/>
<circle cx="363.2" cy="191.0" r="0.88" fill="#5c1c30"/>
<circle cx="392.4" cy="220.2" r="1.5" fill="#e8203a" opacity="0.2"/>
<circle cx="392.4" cy="220.2" r="0.88" fill="#5c1c30"/>
<circle cx="436.6" cy="225" r="1.5" fill="#3e4fa2" opacity="0.2"/>
<circle cx="436.6" cy="225.0" r="0.88" fill="#252b52"/>
<circle cx="372.6" cy="232.9" r="1.5" fill="#3e4fa2" opacity="0.2"/>
<circle cx="372.6" cy="232.9" r="0.88" fill="#252b52"/>
<circle cx="385.5" cy="242" r="1.5" fill="#7a38a6" opacity="0.2"/>
<circle cx="385.5" cy="242.0" r="0.88" fill="#3a2450"/>
<circle cx="385.5" cy="243.3" r="1.5" fill="#7a38a6" opacity="0.2"/>
<circle cx="385.5" cy="243.3" r="0.88" fill="#3a2450"/>
<circle cx="397.3" cy="243.3" r="1.5" fill="#7a38a6" opacity="0.2"/>
<circle cx="397.3" cy="243.3" r="0.88" fill="#3a2450"/>
<circle cx="421.8" cy="253.2" r="1.5" fill="#7a38a6" opacity="0.2"/>
<circle cx="421.8" cy="253.2" r="0.88" fill="#3a2450"/>
<circle cx="420.3" cy="262.4" r="1.5" fill="#3e4fa2" opacity="0.2"/>
<circle cx="420.3" cy="262.4" r="0.88" fill="#252b52"/>
<circle cx="428.8" cy="264" r="1.5" fill="#e8203a" opacity="0.2"/>
<circle cx="428.8" cy="264.0" r="0.88" fill="#5c1c30"/>
<circle cx="437.7" cy="268.6" r="1.5" fill="#e8203a" opacity="0.2"/>
<circle cx="437.7" cy="268.6" r="0.88" fill="#5c1c30"/>
<circle cx="362.8" cy="268" r="1.5" fill="#3e4fa2" opacity="0.2"/>
<circle cx="362.8" cy="268.0" r="0.88" fill="#252b52"/>
<circle cx="423" cy="278.7" r="1.5" fill="#e8203a" opacity="0.2"/>
<circle cx="423.0" cy="278.7" r="0.88" fill="#5c1c30"/>
<line x1="273" y1="252.5" x2="437.5" y2="244.2" stroke="#333" stroke-width="0.9"/>
<text x="456.5" y="203.6" font-size="6.6" textLength="27.7" lengthAdjust="spacingAndGlyphs" fill="#333333">% BMPCs</text>
<defs><linearGradient id="cb" x1="0" y1="1" x2="0" y2="0"><stop offset="0" stop-color="#3d4a9f"/><stop offset="0.25" stop-color="#7a35a5"/><stop offset="0.5" stop-color="#b51f97"/><stop offset="0.75" stop-color="#e11f62"/><stop offset="0.9" stop-color="#ef1d33"/><stop offset="1" stop-color="#f01c24"/></linearGradient></defs>
<rect x="456.2" y="207.7" width="10.4" height="49.6" fill="url(#cb)"/>
<text x="469" y="220.6" font-size="6.3" fill="#333333">75</text>
<text x="469" y="234.0" font-size="6.3" fill="#333333">50</text>
<text x="469" y="247.0" font-size="6.3" fill="#333333">25</text>
<text x="469" y="259.4" font-size="6.3" fill="#333333">0</text>
<text x="7.3" y="338.6" font-size="11" font-weight="bold" fill="#111">E</text>
<text x="120.5" y="351.9" font-size="8.6" textLength="95.75" lengthAdjust="spacingAndGlyphs" fill="#333333">Progression Free Survival</text>
<text x="175.75" y="363.8" font-size="6.8" textLength="63.5" lengthAdjust="spacingAndGlyphs" fill="#333333">pairwise <tspan font-style="italic">P</tspan> = .0000013</text>
<line x1="72.5" y1="357.5" x2="72.5" y2="429.8" stroke="#333333" stroke-width="1"/>
<line x1="70.0" y1="359.9" x2="72.5" y2="359.9" stroke="#333333" stroke-width="1"/>
<text x="66.9" y="362.2" font-size="6.5" text-anchor="end" fill="#333333">1.00</text>
<line x1="70.0" y1="376.7" x2="72.5" y2="376.7" stroke="#333333" stroke-width="1"/>
<text x="66.9" y="379.0" font-size="6.5" text-anchor="end" fill="#333333">0.75</text>
<line x1="70.0" y1="393.4" x2="72.5" y2="393.4" stroke="#333333" stroke-width="1"/>
<text x="66.9" y="395.7" font-size="6.5" text-anchor="end" fill="#333333">0.50</text>
<line x1="70.0" y1="410.0" x2="72.5" y2="410.0" stroke="#333333" stroke-width="1"/>
<text x="66.9" y="412.3" font-size="6.5" text-anchor="end" fill="#333333">0.25</text>
<line x1="70.0" y1="426.3" x2="72.5" y2="426.3" stroke="#333333" stroke-width="1"/>
<text x="66.9" y="428.6" font-size="6.5" text-anchor="end" fill="#333333">0.00</text>
<text transform="translate(48.9,392.9) rotate(-90)" x="0" y="0" font-size="8.2" text-anchor="middle" textLength="56.5" lengthAdjust="spacingAndGlyphs" fill="#333333">Survival probability</text>
<line x1="72.0" y1="429.3" x2="261.7" y2="429.3" stroke="#333333" stroke-width="1"/>
<line x1="81.1" y1="429.3" x2="81.1" y2="431.8" stroke="#333333" stroke-width="1"/>
<text x="81.1" y="441.0" font-size="6.3" text-anchor="middle" fill="#333333">0</text>
<line x1="94.17999999999999" y1="429.3" x2="94.17999999999999" y2="431.8" stroke="#333333" stroke-width="1"/>
<text x="94.17999999999999" y="441.0" font-size="6.3" text-anchor="middle" fill="#333333">3</text>
<line x1="107.25999999999999" y1="429.3" x2="107.25999999999999" y2="431.8" stroke="#333333" stroke-width="1"/>
<text x="107.25999999999999" y="441.0" font-size="6.3" text-anchor="middle" fill="#333333">6</text>
<line x1="120.34" y1="429.3" x2="120.34" y2="431.8" stroke="#333333" stroke-width="1"/>
<text x="120.34" y="441.0" font-size="6.3" text-anchor="middle" fill="#333333">9</text>
<line x1="133.42" y1="429.3" x2="133.42" y2="431.8" stroke="#333333" stroke-width="1"/>
<text x="133.42" y="441.0" font-size="6.3" text-anchor="middle" fill="#333333">12</text>
<line x1="146.5" y1="429.3" x2="146.5" y2="431.8" stroke="#333333" stroke-width="1"/>
<text x="146.5" y="441.0" font-size="6.3" text-anchor="middle" fill="#333333">15</text>
<line x1="159.57999999999998" y1="429.3" x2="159.57999999999998" y2="431.8" stroke="#333333" stroke-width="1"/>
<text x="159.57999999999998" y="441.0" font-size="6.3" text-anchor="middle" fill="#333333">18</text>
<line x1="172.66" y1="429.3" x2="172.66" y2="431.8" stroke="#333333" stroke-width="1"/>
<text x="172.66" y="441.0" font-size="6.3" text-anchor="middle" fill="#333333">21</text>
<line x1="185.74" y1="429.3" x2="185.74" y2="431.8" stroke="#333333" stroke-width="1"/>
<text x="185.74" y="441.0" font-size="6.3" text-anchor="middle" fill="#333333">24</text>
<line x1="198.82" y1="429.3" x2="198.82" y2="431.8" stroke="#333333" stroke-width="1"/>
<text x="198.82" y="441.0" font-size="6.3" text-anchor="middle" fill="#333333">27</text>
<line x1="211.9" y1="429.3" x2="211.9" y2="431.8" stroke="#333333" stroke-width="1"/>
<text x="211.9" y="441.0" font-size="6.3" text-anchor="middle" fill="#333333">30</text>
<line x1="224.98" y1="429.3" x2="224.98" y2="431.8" stroke="#333333" stroke-width="1"/>
<text x="224.98" y="441.0" font-size="6.3" text-anchor="middle" fill="#333333">33</text>
<line x1="238.06" y1="429.3" x2="238.06" y2="431.8" stroke="#333333" stroke-width="1"/>
<text x="238.06" y="441.0" font-size="6.3" text-anchor="middle" fill="#333333">36</text>
<line x1="251.14" y1="429.3" x2="251.14" y2="431.8" stroke="#333333" stroke-width="1"/>
<text x="251.14" y="441.0" font-size="6.3" text-anchor="middle" fill="#333333">39</text>
<text x="144.5" y="452.9" font-size="8.0" textLength="42.5" lengthAdjust="spacingAndGlyphs" fill="#333333">Time (months)</text>
<line x1="80.7" y1="393.4" x2="141.2" y2="393.4" stroke="#3a3a3a" stroke-width="0.9" stroke-dasharray="1,1.2"/>
<line x1="85.2" y1="393.4" x2="85.2" y2="426.3" stroke="#3a3a3a" stroke-width="0.9" stroke-dasharray="1,1.2"/>
<line x1="141.2" y1="393.4" x2="141.2" y2="426.3" stroke="#3a3a3a" stroke-width="0.9" stroke-dasharray="1,1.2"/>
<path d="M80.7,359.9 H82.3 V377.5 H84.1 V381.8 H85.2 V402 H88.4 V406.8 H92.4 V411.7 H93.6 V416.8 H138.2 V421.6 H246.8" fill="none" stroke="#7cbf86" stroke-width="1.2"/>
<path d="M80.7,359.9 L84.3,359.9 L86.1,366.5 L87.5,370.6 L89.5,372.3 L94.7,375.8 L98.2,376.6 L100,376.9 L104,379 L109.2,380.8 L118.5,385.4 L126.2,389.2 L132.3,392 L140.8,392.6 L150.8,394.6 L160,397.2 L169.2,399.2 L181.5,401.5 L192.3,401.5 L200,403.8 L209.2,403.8 L213.8,404.6 L258.6,404.6" fill="none" stroke="#28395c" stroke-width="1.2"/>
<line x1="183" y1="400.2" x2="183" y2="402.8" stroke="#28395c" stroke-width="0.8"/>
<line x1="186" y1="400.2" x2="186" y2="402.8" stroke="#28395c" stroke-width="0.8"/>
<line x1="203" y1="402.5" x2="203" y2="405.1" stroke="#28395c" stroke-width="0.8"/>
<line x1="206" y1="402.5" x2="206" y2="405.1" stroke="#28395c" stroke-width="0.8"/>
<line x1="215" y1="403.3" x2="215" y2="405.90000000000003" stroke="#28395c" stroke-width="0.8"/>
<line x1="218" y1="403.3" x2="218" y2="405.90000000000003" stroke="#28395c" stroke-width="0.8"/>
<line x1="220" y1="403.3" x2="220" y2="405.90000000000003" stroke="#28395c" stroke-width="0.8"/>
<line x1="223" y1="403.3" x2="223" y2="405.90000000000003" stroke="#28395c" stroke-width="0.8"/>
<line x1="226" y1="403.3" x2="226" y2="405.90000000000003" stroke="#28395c" stroke-width="0.8"/>
<line x1="229" y1="403.3" x2="229" y2="405.90000000000003" stroke="#28395c" stroke-width="0.8"/>
<line x1="233" y1="403.3" x2="233" y2="405.90000000000003" stroke="#28395c" stroke-width="0.8"/>
<line x1="238" y1="403.3" x2="238" y2="405.90000000000003" stroke="#28395c" stroke-width="0.8"/>
<line x1="244" y1="403.3" x2="244" y2="405.90000000000003" stroke="#28395c" stroke-width="0.8"/>
<line x1="258.6" y1="403.3" x2="258.6" y2="405.90000000000003" stroke="#28395c" stroke-width="0.8"/>
<line x1="246.8" y1="420.3" x2="246.8" y2="422.90000000000003" stroke="#7cbf86" stroke-width="0.8"/>
<line x1="72.5" y1="457.8" x2="72.5" y2="478.9" stroke="#333333" stroke-width="1"/>
<line x1="70.0" y1="463.0" x2="72.5" y2="463.0" stroke="#333333" stroke-width="1"/>
<text x="66.3" y="465.3" font-size="6.6" text-anchor="end" textLength="58.6" lengthAdjust="spacingAndGlyphs" fill="#333333">sBCMA &lt; 400 ng/mL</text>
<text x="81.1" y="465.3" font-size="6.6" text-anchor="middle" fill="#333333">147</text>
<text x="94.17999999999999" y="465.3" font-size="6.6" text-anchor="middle" fill="#333333">107</text>
<text x="107.25999999999999" y="465.3" font-size="6.6" text-anchor="middle" fill="#333333">96</text>
<text x="120.34" y="465.3" font-size="6.6" text-anchor="middle" fill="#333333">84</text>
<text x="133.42" y="465.3" font-size="6.6" text-anchor="middle" fill="#333333">72</text>
<text x="146.5" y="465.3" font-size="6.6" text-anchor="middle" fill="#333333">68</text>
<text x="159.57999999999998" y="465.3" font-size="6.6" text-anchor="middle" fill="#333333">60</text>
<text x="172.66" y="465.3" font-size="6.6" text-anchor="middle" fill="#333333">54</text>
<text x="185.74" y="465.3" font-size="6.6" text-anchor="middle" fill="#333333">48</text>
<text x="198.82" y="465.3" font-size="6.6" text-anchor="middle" fill="#333333">43</text>
<text x="211.9" y="465.3" font-size="6.6" text-anchor="middle" fill="#333333">18</text>
<text x="224.98" y="465.3" font-size="6.6" text-anchor="middle" fill="#333333">9</text>
<text x="238.06" y="465.3" font-size="6.6" text-anchor="middle" fill="#333333">3</text>
<text x="251.14" y="465.3" font-size="6.6" text-anchor="middle" fill="#333333">1</text>
<line x1="70.0" y1="472.6" x2="72.5" y2="472.6" stroke="#333333" stroke-width="1"/>
<text x="66.3" y="474.90000000000003" font-size="6.6" text-anchor="end" textLength="58.6" lengthAdjust="spacingAndGlyphs" fill="#333333">sBCMA ≥ 400 ng/mL</text>
<text x="81.1" y="474.90000000000003" font-size="6.6" text-anchor="middle" fill="#333333">16</text>
<text x="94.17999999999999" y="474.90000000000003" font-size="6.6" text-anchor="middle" fill="#333333">2</text>
<text x="107.25999999999999" y="474.90000000000003" font-size="6.6" text-anchor="middle" fill="#333333">2</text>
<text x="120.34" y="474.90000000000003" font-size="6.6" text-anchor="middle" fill="#333333">2</text>
<text x="133.42" y="474.90000000000003" font-size="6.6" text-anchor="middle" fill="#333333">2</text>
<text x="146.5" y="474.90000000000003" font-size="6.6" text-anchor="middle" fill="#333333">1</text>
<text x="159.57999999999998" y="474.90000000000003" font-size="6.6" text-anchor="middle" fill="#333333">1</text>
<text x="172.66" y="474.90000000000003" font-size="6.6" text-anchor="middle" fill="#333333">1</text>
<text x="185.74" y="474.90000000000003" font-size="6.6" text-anchor="middle" fill="#333333">1</text>
<text x="198.82" y="474.90000000000003" font-size="6.6" text-anchor="middle" fill="#333333">1</text>
<text x="211.9" y="474.90000000000003" font-size="6.6" text-anchor="middle" fill="#333333">1</text>
<text x="224.98" y="474.90000000000003" font-size="6.6" text-anchor="middle" fill="#333333">1</text>
<text x="238.06" y="474.90000000000003" font-size="6.6" text-anchor="middle" fill="#333333">1</text>
<text x="251.14" y="474.90000000000003" font-size="6.6" text-anchor="middle" fill="#333333">0</text>
<line x1="72.0" y1="478.4" x2="261.7" y2="478.4" stroke="#333333" stroke-width="1"/>
<line x1="81.1" y1="478.4" x2="81.1" y2="480.9" stroke="#333333" stroke-width="1"/>
<text x="81.1" y="489.8" font-size="6.3" text-anchor="middle" fill="#333333">0</text>
<line x1="94.17999999999999" y1="478.4" x2="94.17999999999999" y2="480.9" stroke="#333333" stroke-width="1"/>
<text x="94.17999999999999" y="489.8" font-size="6.3" text-anchor="middle" fill="#333333">3</text>
<line x1="107.25999999999999" y1="478.4" x2="107.25999999999999" y2="480.9" stroke="#333333" stroke-width="1"/>
<text x="107.25999999999999" y="489.8" font-size="6.3" text-anchor="middle" fill="#333333">6</text>
<line x1="120.34" y1="478.4" x2="120.34" y2="480.9" stroke="#333333" stroke-width="1"/>
<text x="120.34" y="489.8" font-size="6.3" text-anchor="middle" fill="#333333">9</text>
<line x1="133.42" y1="478.4" x2="133.42" y2="480.9" stroke="#333333" stroke-width="1"/>
<text x="133.42" y="489.8" font-size="6.3" text-anchor="middle" fill="#333333">12</text>
<line x1="146.5" y1="478.4" x2="146.5" y2="480.9" stroke="#333333" stroke-width="1"/>
<text x="146.5" y="489.8" font-size="6.3" text-anchor="middle" fill="#333333">15</text>
<line x1="159.57999999999998" y1="478.4" x2="159.57999999999998" y2="480.9" stroke="#333333" stroke-width="1"/>
<text x="159.57999999999998" y="489.8" font-size="6.3" text-anchor="middle" fill="#333333">18</text>
<line x1="172.66" y1="478.4" x2="172.66" y2="480.9" stroke="#333333" stroke-width="1"/>
<text x="172.66" y="489.8" font-size="6.3" text-anchor="middle" fill="#333333">21</text>
<line x1="185.74" y1="478.4" x2="185.74" y2="480.9" stroke="#333333" stroke-width="1"/>
<text x="185.74" y="489.8" font-size="6.3" text-anchor="middle" fill="#333333">24</text>
<line x1="198.82" y1="478.4" x2="198.82" y2="480.9" stroke="#333333" stroke-width="1"/>
<text x="198.82" y="489.8" font-size="6.3" text-anchor="middle" fill="#333333">27</text>
<line x1="211.9" y1="478.4" x2="211.9" y2="480.9" stroke="#333333" stroke-width="1"/>
<text x="211.9" y="489.8" font-size="6.3" text-anchor="middle" fill="#333333">30</text>
<line x1="224.98" y1="478.4" x2="224.98" y2="480.9" stroke="#333333" stroke-width="1"/>
<text x="224.98" y="489.8" font-size="6.3" text-anchor="middle" fill="#333333">33</text>
<line x1="238.06" y1="478.4" x2="238.06" y2="480.9" stroke="#333333" stroke-width="1"/>
<text x="238.06" y="489.8" font-size="6.3" text-anchor="middle" fill="#333333">36</text>
<line x1="251.14" y1="478.4" x2="251.14" y2="480.9" stroke="#333333" stroke-width="1"/>
<text x="251.14" y="489.8" font-size="6.3" text-anchor="middle" fill="#333333">39</text>
<text x="144.5" y="501.0" font-size="8.0" textLength="42.5" lengthAdjust="spacingAndGlyphs" fill="#333333">Time (months)</text>
<line x1="90.8" y1="512.8" x2="101.0" y2="512.8" stroke="#4d6a96" stroke-width="1.3"/>
<line x1="95.9" y1="511.3" x2="95.9" y2="514.3" stroke="#2d4a78" stroke-width="0.8"/>
<text x="104.0" y="515.0" font-size="6.6" textLength="58.8" lengthAdjust="spacingAndGlyphs" fill="#333333">sBCMA &lt; 400 ng/mL</text>
<line x1="170.7" y1="512.8" x2="180.9" y2="512.8" stroke="#7cbf86" stroke-width="1.3"/>
<line x1="175.8" y1="511.3" x2="175.8" y2="514.3" stroke="#7cbf86" stroke-width="0.8"/>
<text x="183.9" y="515.0" font-size="6.6" textLength="58.1" lengthAdjust="spacingAndGlyphs" fill="#333333">sBCMA ≥ 400 ng/mL</text>
<text x="266.9" y="338.6" font-size="11" font-weight="bold" fill="#111">F</text>
<text x="371.6" y="351.9" font-size="8.6" textLength="95.2" lengthAdjust="spacingAndGlyphs" fill="#333333">Progression Free Survival</text>
<text x="426.3" y="367.0" font-size="6.8" textLength="63.2" lengthAdjust="spacingAndGlyphs" fill="#333333">pairwise P = .0000166</text>
<line x1="322.5" y1="357.5" x2="322.5" y2="429.8" stroke="#333333" stroke-width="1"/>
<line x1="320.0" y1="359.9" x2="322.5" y2="359.9" stroke="#333333" stroke-width="1"/>
<text x="316.9" y="362.2" font-size="6.5" text-anchor="end" fill="#333333">1.00</text>
<line x1="320.0" y1="376.7" x2="322.5" y2="376.7" stroke="#333333" stroke-width="1"/>
<text x="316.9" y="379.0" font-size="6.5" text-anchor="end" fill="#333333">0.75</text>
<line x1="320.0" y1="393.4" x2="322.5" y2="393.4" stroke="#333333" stroke-width="1"/>
<text x="316.9" y="395.7" font-size="6.5" text-anchor="end" fill="#333333">0.50</text>
<line x1="320.0" y1="410.0" x2="322.5" y2="410.0" stroke="#333333" stroke-width="1"/>
<text x="316.9" y="412.3" font-size="6.5" text-anchor="end" fill="#333333">0.25</text>
<line x1="320.0" y1="426.3" x2="322.5" y2="426.3" stroke="#333333" stroke-width="1"/>
<text x="316.9" y="428.6" font-size="6.5" text-anchor="end" fill="#333333">0.00</text>
<text transform="translate(298.9,392.9) rotate(-90)" x="0" y="0" font-size="8.2" text-anchor="middle" textLength="56.5" lengthAdjust="spacingAndGlyphs" fill="#333333">Survival probability</text>
<line x1="322.0" y1="429.3" x2="513.0" y2="429.3" stroke="#333333" stroke-width="1"/>
<line x1="331.1" y1="429.3" x2="331.1" y2="431.8" stroke="#333333" stroke-width="1"/>
<text x="331.1" y="441.0" font-size="6.3" text-anchor="middle" fill="#333333">0</text>
<line x1="344.33000000000004" y1="429.3" x2="344.33000000000004" y2="431.8" stroke="#333333" stroke-width="1"/>
<text x="344.33000000000004" y="441.0" font-size="6.3" text-anchor="middle" fill="#333333">3</text>
<line x1="357.56" y1="429.3" x2="357.56" y2="431.8" stroke="#333333" stroke-width="1"/>
<text x="357.56" y="441.0" font-size="6.3" text-anchor="middle" fill="#333333">6</text>
<line x1="370.79" y1="429.3" x2="370.79" y2="431.8" stroke="#333333" stroke-width="1"/>
<text x="370.79" y="441.0" font-size="6.3" text-anchor="middle" fill="#333333">9</text>
<line x1="384.02000000000004" y1="429.3" x2="384.02000000000004" y2="431.8" stroke="#333333" stroke-width="1"/>
<text x="384.02000000000004" y="441.0" font-size="6.3" text-anchor="middle" fill="#333333">12</text>
<line x1="397.25" y1="429.3" x2="397.25" y2="431.8" stroke="#333333" stroke-width="1"/>
<text x="397.25" y="441.0" font-size="6.3" text-anchor="middle" fill="#333333">15</text>
<line x1="410.48" y1="429.3" x2="410.48" y2="431.8" stroke="#333333" stroke-width="1"/>
<text x="410.48" y="441.0" font-size="6.3" text-anchor="middle" fill="#333333">18</text>
<line x1="423.71000000000004" y1="429.3" x2="423.71000000000004" y2="431.8" stroke="#333333" stroke-width="1"/>
<text x="423.71000000000004" y="441.0" font-size="6.3" text-anchor="middle" fill="#333333">21</text>
<line x1="436.94000000000005" y1="429.3" x2="436.94000000000005" y2="431.8" stroke="#333333" stroke-width="1"/>
<text x="436.94000000000005" y="441.0" font-size="6.3" text-anchor="middle" fill="#333333">24</text>
<line x1="450.17" y1="429.3" x2="450.17" y2="431.8" stroke="#333333" stroke-width="1"/>
<text x="450.17" y="441.0" font-size="6.3" text-anchor="middle" fill="#333333">27</text>
<line x1="463.40000000000003" y1="429.3" x2="463.40000000000003" y2="431.8" stroke="#333333" stroke-width="1"/>
<text x="463.40000000000003" y="441.0" font-size="6.3" text-anchor="middle" fill="#333333">30</text>
<line x1="476.63" y1="429.3" x2="476.63" y2="431.8" stroke="#333333" stroke-width="1"/>
<text x="476.63" y="441.0" font-size="6.3" text-anchor="middle" fill="#333333">33</text>
<line x1="489.86" y1="429.3" x2="489.86" y2="431.8" stroke="#333333" stroke-width="1"/>
<text x="489.86" y="441.0" font-size="6.3" text-anchor="middle" fill="#333333">36</text>
<line x1="503.09000000000003" y1="429.3" x2="503.09000000000003" y2="431.8" stroke="#333333" stroke-width="1"/>
<text x="503.09000000000003" y="441.0" font-size="6.3" text-anchor="middle" fill="#333333">39</text>
<text x="394.5" y="452.9" font-size="8.0" textLength="42.5" lengthAdjust="spacingAndGlyphs" fill="#333333">Time (months)</text>
<line x1="331" y1="393.4" x2="445.4" y2="393.4" stroke="#3a3a3a" stroke-width="0.9" stroke-dasharray="1,1.2"/>
<line x1="350" y1="393.4" x2="350" y2="426.3" stroke="#3a3a3a" stroke-width="0.9" stroke-dasharray="1,1.2"/>
<line x1="445.4" y1="393.4" x2="445.4" y2="426.3" stroke="#3a3a3a" stroke-width="0.9" stroke-dasharray="1,1.2"/>
<path d="M330.8,360.5 L334.2,365 L335.8,370.4 L336.5,376.5 L338.1,383.5 L339.6,386.5 L341.2,387.3 L344.2,391.9 L348.1,393.2 L351.2,393.5 L357.3,394.7 L361.9,396.2 L365.8,399.6 L369.6,400.4 L374.2,401.2 L380.4,401.9 L389.6,402.7 L397.3,404.2 L401.5,405.8 L407.7,408.5 L413.8,409.6 L421.5,411.5 L426.9,412.7 L430,415.2 L498.5,415.2" fill="none" stroke="#7cbf86" stroke-width="1.2"/>
<path d="M330.8,360.5 L333.5,360.5 L336.5,366.1 L340.4,367.3 L344.2,368.5 L348.8,368.8 L352.7,370.4 L357.3,373.2 L361.9,374.7 L366.5,375.8 L371.2,378.1 L377.3,383.2 L381.9,386.5 L386.5,387.3 L391.9,388.1 L394.2,389.2 L401.5,390 L410.8,390.8 L423.1,391.9 L424.6,392.7 L444.6,393.2 L447.7,395 L450.8,396.8 L460,396.9 L462.3,398.8 L511.5,398.8" fill="none" stroke="#28395c" stroke-width="1.2"/>
<line x1="428" y1="391.4" x2="428" y2="394.0" stroke="#28395c" stroke-width="0.8"/>
<line x1="436" y1="391.9" x2="436" y2="394.5" stroke="#28395c" stroke-width="0.8"/>
<line x1="454" y1="395.59999999999997" x2="454" y2="398.2" stroke="#28395c" stroke-width="0.8"/>
<line x1="456" y1="395.59999999999997" x2="456" y2="398.2" stroke="#28395c" stroke-width="0.8"/>
<line x1="458" y1="395.59999999999997" x2="458" y2="398.2" stroke="#28395c" stroke-width="0.8"/>
<line x1="463" y1="397.5" x2="463" y2="400.1" stroke="#28395c" stroke-width="0.8"/>
<line x1="467" y1="397.5" x2="467" y2="400.1" stroke="#28395c" stroke-width="0.8"/>
<line x1="471" y1="397.5" x2="471" y2="400.1" stroke="#28395c" stroke-width="0.8"/>
<line x1="474" y1="397.5" x2="474" y2="400.1" stroke="#28395c" stroke-width="0.8"/>
<line x1="477" y1="397.5" x2="477" y2="400.1" stroke="#28395c" stroke-width="0.8"/>
<line x1="480" y1="397.5" x2="480" y2="400.1" stroke="#28395c" stroke-width="0.8"/>
<line x1="483" y1="397.5" x2="483" y2="400.1" stroke="#28395c" stroke-width="0.8"/>
<line x1="492" y1="397.5" x2="492" y2="400.1" stroke="#28395c" stroke-width="0.8"/>
<line x1="511.5" y1="397.5" x2="511.5" y2="400.1" stroke="#28395c" stroke-width="0.8"/>
<line x1="433" y1="413.9" x2="433" y2="416.5" stroke="#7cbf86" stroke-width="0.8"/>
<line x1="437" y1="413.9" x2="437" y2="416.5" stroke="#7cbf86" stroke-width="0.8"/>
<line x1="441" y1="413.9" x2="441" y2="416.5" stroke="#7cbf86" stroke-width="0.8"/>
<line x1="446" y1="413.9" x2="446" y2="416.5" stroke="#7cbf86" stroke-width="0.8"/>
<line x1="451" y1="413.9" x2="451" y2="416.5" stroke="#7cbf86" stroke-width="0.8"/>
<line x1="456" y1="413.9" x2="456" y2="416.5" stroke="#7cbf86" stroke-width="0.8"/>
<line x1="461" y1="413.9" x2="461" y2="416.5" stroke="#7cbf86" stroke-width="0.8"/>
<line x1="467" y1="413.9" x2="467" y2="416.5" stroke="#7cbf86" stroke-width="0.8"/>
<line x1="472" y1="413.9" x2="472" y2="416.5" stroke="#7cbf86" stroke-width="0.8"/>
<line x1="477" y1="413.9" x2="477" y2="416.5" stroke="#7cbf86" stroke-width="0.8"/>
<line x1="482" y1="413.9" x2="482" y2="416.5" stroke="#7cbf86" stroke-width="0.8"/>
<line x1="498.5" y1="413.9" x2="498.5" y2="416.5" stroke="#7cbf86" stroke-width="0.8"/>
<line x1="322.5" y1="457.8" x2="322.5" y2="478.9" stroke="#333333" stroke-width="1"/>
<line x1="320.0" y1="463.0" x2="322.5" y2="463.0" stroke="#333333" stroke-width="1"/>
<text x="316.3" y="465.3" font-size="6.6" text-anchor="end" textLength="50" lengthAdjust="spacingAndGlyphs" fill="#333333">sBCMA &lt; median</text>
<text x="331.1" y="465.3" font-size="6.6" text-anchor="middle" fill="#333333">81</text>
<text x="344.33000000000004" y="465.3" font-size="6.6" text-anchor="middle" fill="#333333">70</text>
<text x="357.56" y="465.3" font-size="6.6" text-anchor="middle" fill="#333333">64</text>
<text x="370.79" y="465.3" font-size="6.6" text-anchor="middle" fill="#333333">58</text>
<text x="384.02000000000004" y="465.3" font-size="6.6" text-anchor="middle" fill="#333333">48</text>
<text x="397.25" y="465.3" font-size="6.6" text-anchor="middle" fill="#333333">45</text>
<text x="410.48" y="465.3" font-size="6.6" text-anchor="middle" fill="#333333">43</text>
<text x="423.71000000000004" y="465.3" font-size="6.6" text-anchor="middle" fill="#333333">41</text>
<text x="436.94000000000005" y="465.3" font-size="6.6" text-anchor="middle" fill="#333333">38</text>
<text x="450.17" y="465.3" font-size="6.6" text-anchor="middle" fill="#333333">34</text>
<text x="463.40000000000003" y="465.3" font-size="6.6" text-anchor="middle" fill="#333333">13</text>
<text x="476.63" y="465.3" font-size="6.6" text-anchor="middle" fill="#333333">6</text>
<text x="489.86" y="465.3" font-size="6.6" text-anchor="middle" fill="#333333">3</text>
<text x="503.09000000000003" y="465.3" font-size="6.6" text-anchor="middle" fill="#333333">1</text>
<line x1="320.0" y1="472.6" x2="322.5" y2="472.6" stroke="#333333" stroke-width="1"/>
<text x="316.3" y="474.90000000000003" font-size="6.6" text-anchor="end" textLength="50" lengthAdjust="spacingAndGlyphs" fill="#333333">sBCMA ≥ median</text>
<text x="331.1" y="474.90000000000003" font-size="6.6" text-anchor="middle" fill="#333333">82</text>
<text x="344.33000000000004" y="474.90000000000003" font-size="6.6" text-anchor="middle" fill="#333333">39</text>
<text x="357.56" y="474.90000000000003" font-size="6.6" text-anchor="middle" fill="#333333">34</text>
<text x="370.79" y="474.90000000000003" font-size="6.6" text-anchor="middle" fill="#333333">28</text>
<text x="384.02000000000004" y="474.90000000000003" font-size="6.6" text-anchor="middle" fill="#333333">26</text>
<text x="397.25" y="474.90000000000003" font-size="6.6" text-anchor="middle" fill="#333333">24</text>
<text x="410.48" y="474.90000000000003" font-size="6.6" text-anchor="middle" fill="#333333">18</text>
<text x="423.71000000000004" y="474.90000000000003" font-size="6.6" text-anchor="middle" fill="#333333">14</text>
<text x="436.94000000000005" y="474.90000000000003" font-size="6.6" text-anchor="middle" fill="#333333">11</text>
<text x="450.17" y="474.90000000000003" font-size="6.6" text-anchor="middle" fill="#333333">10</text>
<text x="463.40000000000003" y="474.90000000000003" font-size="6.6" text-anchor="middle" fill="#333333">6</text>
<text x="476.63" y="474.90000000000003" font-size="6.6" text-anchor="middle" fill="#333333">4</text>
<text x="489.86" y="474.90000000000003" font-size="6.6" text-anchor="middle" fill="#333333">1</text>
<text x="503.09000000000003" y="474.90000000000003" font-size="6.6" text-anchor="middle" fill="#333333">0</text>
<line x1="322.0" y1="478.4" x2="513.0" y2="478.4" stroke="#333333" stroke-width="1"/>
<line x1="331.1" y1="478.4" x2="331.1" y2="480.9" stroke="#333333" stroke-width="1"/>
<text x="331.1" y="489.8" font-size="6.3" text-anchor="middle" fill="#333333">0</text>
<line x1="344.33000000000004" y1="478.4" x2="344.33000000000004" y2="480.9" stroke="#333333" stroke-width="1"/>
<text x="344.33000000000004" y="489.8" font-size="6.3" text-anchor="middle" fill="#333333">3</text>
<line x1="357.56" y1="478.4" x2="357.56" y2="480.9" stroke="#333333" stroke-width="1"/>
<text x="357.56" y="489.8" font-size="6.3" text-anchor="middle" fill="#333333">6</text>
<line x1="370.79" y1="478.4" x2="370.79" y2="480.9" stroke="#333333" stroke-width="1"/>
<text x="370.79" y="489.8" font-size="6.3" text-anchor="middle" fill="#333333">9</text>
<line x1="384.02000000000004" y1="478.4" x2="384.02000000000004" y2="480.9" stroke="#333333" stroke-width="1"/>
<text x="384.02000000000004" y="489.8" font-size="6.3" text-anchor="middle" fill="#333333">12</text>
<line x1="397.25" y1="478.4" x2="397.25" y2="480.9" stroke="#333333" stroke-width="1"/>
<text x="397.25" y="489.8" font-size="6.3" text-anchor="middle" fill="#333333">15</text>
<line x1="410.48" y1="478.4" x2="410.48" y2="480.9" stroke="#333333" stroke-width="1"/>
<text x="410.48" y="489.8" font-size="6.3" text-anchor="middle" fill="#333333">18</text>
<line x1="423.71000000000004" y1="478.4" x2="423.71000000000004" y2="480.9" stroke="#333333" stroke-width="1"/>
<text x="423.71000000000004" y="489.8" font-size="6.3" text-anchor="middle" fill="#333333">21</text>
<line x1="436.94000000000005" y1="478.4" x2="436.94000000000005" y2="480.9" stroke="#333333" stroke-width="1"/>
<text x="436.94000000000005" y="489.8" font-size="6.3" text-anchor="middle" fill="#333333">24</text>
<line x1="450.17" y1="478.4" x2="450.17" y2="480.9" stroke="#333333" stroke-width="1"/>
<text x="450.17" y="489.8" font-size="6.3" text-anchor="middle" fill="#333333">27</text>
<line x1="463.40000000000003" y1="478.4" x2="463.40000000000003" y2="480.9" stroke="#333333" stroke-width="1"/>
<text x="463.40000000000003" y="489.8" font-size="6.3" text-anchor="middle" fill="#333333">30</text>
<line x1="476.63" y1="478.4" x2="476.63" y2="480.9" stroke="#333333" stroke-width="1"/>
<text x="476.63" y="489.8" font-size="6.3" text-anchor="middle" fill="#333333">33</text>
<line x1="489.86" y1="478.4" x2="489.86" y2="480.9" stroke="#333333" stroke-width="1"/>
<text x="489.86" y="489.8" font-size="6.3" text-anchor="middle" fill="#333333">36</text>
<line x1="503.09000000000003" y1="478.4" x2="503.09000000000003" y2="480.9" stroke="#333333" stroke-width="1"/>
<text x="503.09000000000003" y="489.8" font-size="6.3" text-anchor="middle" fill="#333333">39</text>
<text x="394.5" y="501.0" font-size="8.0" textLength="42.5" lengthAdjust="spacingAndGlyphs" fill="#333333">Time (months)</text>
<line x1="332.5" y1="512.8" x2="343.5" y2="512.8" stroke="#4d6a96" stroke-width="1.3"/>
<line x1="338.0" y1="511.3" x2="338.0" y2="514.3" stroke="#2d4a78" stroke-width="0.8"/>
<text x="346.5" y="515.0" font-size="6.6" textLength="87.5" lengthAdjust="spacingAndGlyphs" fill="#333333">sBCMA &lt; median (87.7 ng/mL)</text>
<line x1="440.2" y1="512.8" x2="451.2" y2="512.8" stroke="#7cbf86" stroke-width="1.3"/>
<line x1="445.7" y1="511.3" x2="445.7" y2="514.3" stroke="#7cbf86" stroke-width="0.8"/>
<text x="454.2" y="515.0" font-size="6.6" textLength="49.3" lengthAdjust="spacingAndGlyphs" fill="#333333">sBCMA ≥ median</text>
<rect x="0.5" y="0.5" width="519" height="522" fill="none" stroke="#5e5e5e" stroke-width="1"/>
</svg>
</body></html>
